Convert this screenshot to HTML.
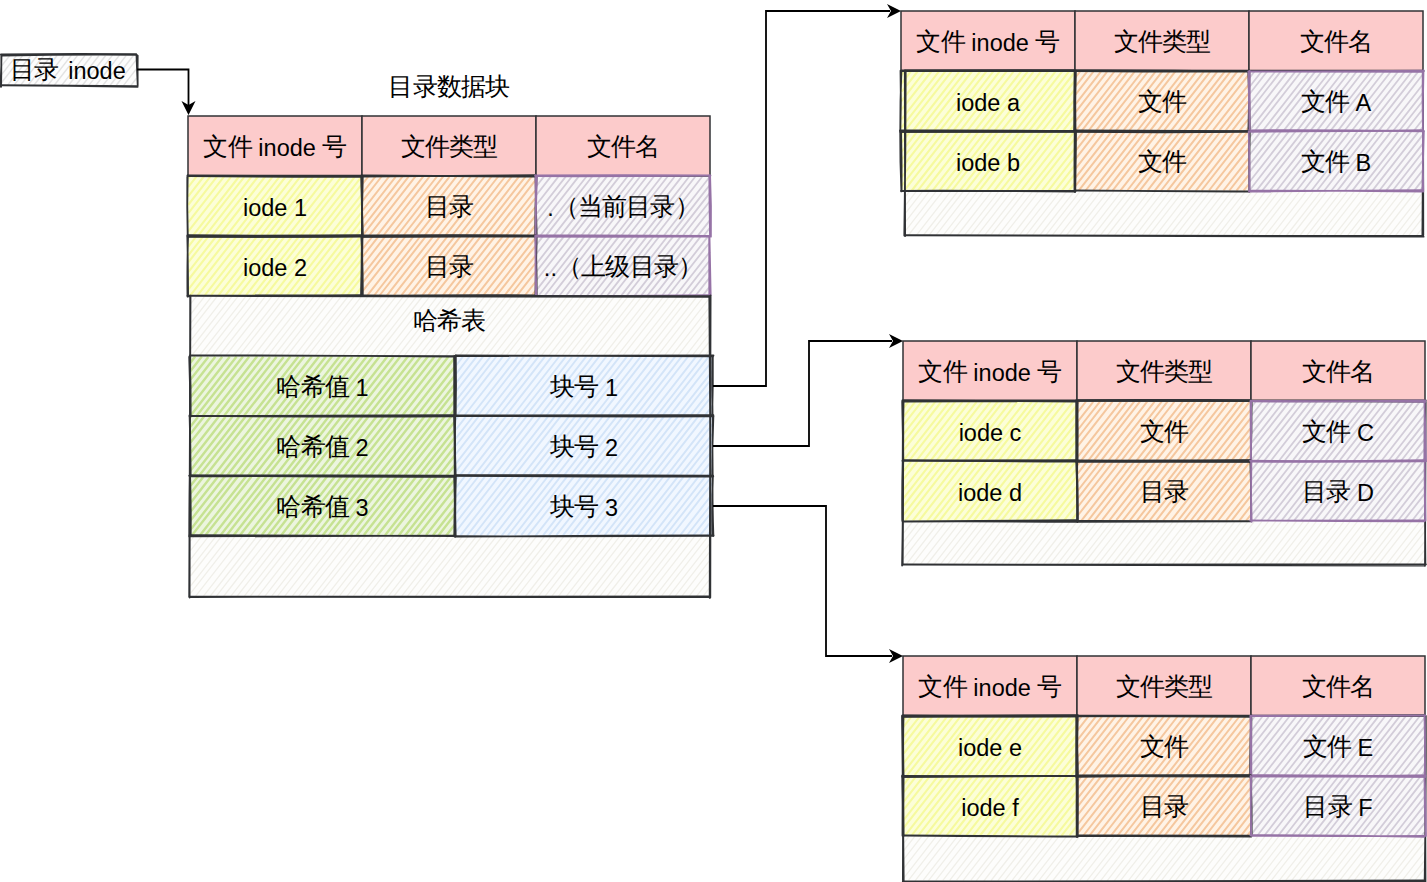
<!DOCTYPE html>
<html><head><meta charset="utf-8"><style>
html,body{margin:0;padding:0;background:#fff;width:1427px;height:882px;overflow:hidden}
svg{display:block}
text{font-family:"Liberation Sans", sans-serif;fill:#000}
</style></head><body>
<svg width="1427" height="882" viewBox="0 0 1427 882">
<defs><pattern id="hyel" patternUnits="userSpaceOnUse" width="5.4" height="5.4" patternTransform="rotate(38)"><rect width="5.4" height="5.4" fill="#fcfed8"/><rect x="0" y="0" width="2.1" height="5.4" fill="#f6fa9e"/></pattern><pattern id="horg" patternUnits="userSpaceOnUse" width="5.4" height="5.4" patternTransform="rotate(38)"><rect width="5.4" height="5.4" fill="#fff3e6"/><rect x="0" y="0" width="2.0" height="5.4" fill="#f5c79e"/></pattern><pattern id="hpur" patternUnits="userSpaceOnUse" width="5.4" height="5.4" patternTransform="rotate(38)"><rect width="5.4" height="5.4" fill="#f8f7f9"/><rect x="0" y="0" width="1.8" height="5.4" fill="#d3cdd9"/></pattern><pattern id="hgrn" patternUnits="userSpaceOnUse" width="5.4" height="5.4" patternTransform="rotate(38)"><rect width="5.4" height="5.4" fill="#ecf5df"/><rect x="0" y="0" width="2.4" height="5.4" fill="#c6e292"/></pattern><pattern id="hblu" patternUnits="userSpaceOnUse" width="5.4" height="5.4" patternTransform="rotate(38)"><rect width="5.4" height="5.4" fill="#f1f7ff"/><rect x="0" y="0" width="1.9" height="5.4" fill="#d3e4f8"/></pattern><pattern id="hgry" patternUnits="userSpaceOnUse" width="5.4" height="5.4" patternTransform="rotate(38)"><rect width="5.4" height="5.4" fill="#fdfdfc"/><rect x="0" y="0" width="1.3" height="5.4" fill="#f0efe9"/></pattern><pattern id="hwht" patternUnits="userSpaceOnUse" width="5.4" height="5.4" patternTransform="rotate(38)"><rect width="5.4" height="5.4" fill="#fdfdfd"/><rect x="0" y="0" width="1.5" height="5.4" fill="#e3e3e3"/></pattern></defs>
<rect x="1" y="55" width="136" height="31" fill="#fdfdfd"/>
<path d="M1.5 56.5L2.6 55.1M1.3 66.3L10.1 55.1M1.0 75.4L16.6 55.4M1.1 83.2L22.8 55.4M7.0 85.9L31.0 55.2M14.2 85.1L37.3 55.5M20.7 85.1L44.1 55.0M27.7 85.7L51.6 55.1M33.5 85.7L56.9 55.8M40.6 85.5L63.9 55.6M47.7 85.5L71.5 55.1M53.9 85.8L77.4 55.6M61.4 85.7L84.9 55.6M68.2 85.7L91.6 55.8M75.4 85.8L99.0 55.5M82.5 85.2L105.5 55.7M89.0 85.1L112.5 55.1M95.9 85.3L119.5 55.1M102.4 86.0L126.1 55.6M110.0 85.5L133.2 55.8M116.3 85.3L136.6 59.4M123.4 85.6L136.4 68.9M130.8 85.6L136.5 78.2M136.5 85.3L136.5 85.3" stroke="#e3e3e3" stroke-width="1.5" fill="none"/>
<path d="M1.9 55.6Q69.6 54.3 136.6 54.8M0.9 54.4Q69.1 53.6 136.3 54.2" fill="none" stroke="#303235" stroke-width="1.8" stroke-linecap="round"/>
<path d="M136.5 54.8Q137.0 70.1 137.7 85.2M137.7 55.6Q137.5 70.3 137.7 85.6" fill="none" stroke="#303235" stroke-width="1.8" stroke-linecap="round"/>
<path d="M137.7 86.8Q68.5 85.6 0.4 85.4M137.0 86.2Q68.6 85.4 0.6 85.1" fill="none" stroke="#303235" stroke-width="1.8" stroke-linecap="round"/>
<path d="M1.1 86.8Q1.4 71.2 1.3 55.0M0.2 86.7Q1.4 71.0 1.5 55.7" fill="none" stroke="#303235" stroke-width="1.8" stroke-linecap="round"/>
<text x="68" y="71" font-size="23.5" text-anchor="middle" dominant-baseline="central"><tspan font-size="25" letter-spacing="-0.8" baseline-shift="1.8">目录</tspan><tspan dx="3"> inode</tspan></text>
<path d="M137 69.5 H188.5 V105" fill="none" stroke="#000" stroke-width="1.8"/>
<path d="M188.5 115 L181.5 101 L188.5 105 L195.5 101 Z" fill="#000"/>
<text x="449" y="87.5" font-size="23.5" text-anchor="middle" dominant-baseline="central"><tspan font-size="25" letter-spacing="-0.8" baseline-shift="1.8">目录数据块</tspan></text>
<rect x="188" y="176" width="174" height="60" fill="#fcfed8"/>
<path d="M188.5 178.1L190.1 176.1M188.2 187.2L196.8 176.2M188.0 196.7L204.2 176.0M188.1 205.0L210.5 176.3M188.6 212.8L217.0 176.6M188.2 222.4L224.2 176.3M188.1 231.7L231.0 176.8M192.9 235.6L239.1 176.5M198.1 235.9L244.7 176.3M205.8 235.2L251.9 176.2M212.4 235.1L258.1 176.5M219.1 235.5L265.6 176.0M226.9 235.1L272.4 176.8M233.4 235.8L279.8 176.3M239.9 235.3L285.8 176.5M247.3 235.7L293.8 176.2M254.7 235.1L300.2 176.8M261.4 235.2L307.1 176.7M267.2 235.5L313.4 176.3M273.4 236.0L320.0 176.3M281.1 235.3L326.7 176.9M288.4 235.1L333.8 176.9M295.6 235.7L342.0 176.2M301.2 235.8L347.8 176.2M309.2 235.1L354.8 176.8M315.6 235.4L361.4 176.8M321.9 235.4L361.3 184.9M329.9 235.3L361.6 194.6M335.8 235.3L361.8 202.1M343.8 235.1L361.7 212.1M350.0 235.1L361.5 220.4M355.9 235.9L361.9 228.2" stroke="#f6fa9e" stroke-width="2.1" fill="none"/>
<rect x="362" y="176" width="174" height="60" fill="#fff3e6"/>
<path d="M362.1 184.4L368.1 176.8M362.5 193.0L375.5 176.3M362.1 201.4L382.0 176.0M362.5 210.6L389.1 176.5M362.3 219.5L395.6 176.8M362.2 228.2L402.8 176.2M362.3 235.8L408.6 176.6M369.2 235.6L415.7 176.1M377.0 235.7L423.3 176.4M383.8 235.1L429.7 176.4M390.9 235.5L437.0 176.5M396.8 236.0L443.3 176.4M403.1 236.0L449.4 176.8M410.3 235.6L456.3 176.7M417.6 235.7L463.8 176.5M424.8 235.3L471.0 176.1M431.2 235.8L477.7 176.3M438.6 235.5L484.7 176.5M445.7 235.1L491.6 176.4M452.1 235.5L498.2 176.5M459.0 235.6L505.2 176.5M465.9 235.1L511.6 176.7M473.4 235.1L519.3 176.2M479.7 235.1L525.3 176.8M485.3 235.9L531.8 176.4M492.2 235.8L535.9 179.7M500.3 235.3L535.3 190.5M506.3 235.3L535.5 198.0M513.3 235.2L535.3 207.0M520.3 235.1L535.7 215.4M527.6 235.1L535.4 225.1M533.6 235.6L535.6 233.0" stroke="#f5c79e" stroke-width="2.0" fill="none"/>
<rect x="536" y="176" width="174" height="60" fill="#f8f7f9"/>
<path d="M536.2 178.1L537.3 176.7M536.4 186.3L544.1 176.4M536.2 195.3L550.8 176.6M536.0 205.3L558.2 176.9M536.7 213.7L566.1 176.1M536.0 222.3L571.7 176.7M536.1 231.0L578.8 176.4M540.6 235.2L586.7 176.2M546.4 235.1L592.2 176.5M553.5 235.9L600.3 176.1M560.6 235.6L607.1 176.1M568.0 235.4L613.8 176.8M573.7 235.2L619.9 176.1M581.4 235.6L627.7 176.3M588.1 235.1L634.1 176.3M594.1 235.5L640.4 176.2M600.6 235.8L647.3 176.0M607.7 235.7L654.1 176.3M615.4 235.7L661.7 176.5M621.4 235.7L668.0 176.0M628.1 236.0L674.5 176.7M635.6 235.8L682.0 176.4M642.9 235.9L689.1 176.8M649.3 235.5L695.2 176.8M656.1 235.5L702.1 176.7M663.8 235.7L709.4 177.3M670.4 235.4L709.7 185.1M676.3 235.9L709.9 192.9M683.2 235.3L709.8 201.3M689.7 235.9L709.4 210.8M698.1 235.4L709.8 220.4M703.7 235.7L709.7 228.1" stroke="#d3cdd9" stroke-width="1.8" fill="none"/>
<rect x="188" y="236" width="174" height="60" fill="#fcfed8"/>
<path d="M188.2 237.0L188.3 236.9M188.4 246.6L196.5 236.2M188.2 255.5L203.2 236.3M188.3 262.4L208.5 236.4M188.1 272.3L216.1 236.5M188.2 280.0L222.5 236.1M188.0 289.8L230.0 236.0M190.0 295.8L236.3 236.6M197.6 295.3L243.5 236.6M204.9 295.2L250.8 236.4M211.2 295.1L257.2 236.1M218.4 295.4L264.8 236.0M225.6 295.2L271.4 236.6M232.2 295.2L278.4 236.1M238.5 295.5L284.4 236.8M246.1 295.2L291.9 236.6M252.9 295.4L298.8 236.7M258.3 296.0L305.1 236.1M265.4 295.9L311.6 236.8M273.0 295.4L318.9 236.6M279.9 295.5L326.4 236.0M287.1 295.3L333.1 236.5M293.5 295.4L339.8 236.1M300.4 295.8L347.0 236.1M306.8 295.3L353.0 236.2M314.6 295.1L360.4 236.5M320.5 295.5L361.5 243.1M328.1 295.4L361.5 252.6M333.5 295.9L361.8 259.7M341.5 295.7L361.6 270.0M347.1 295.9L361.8 277.1M355.4 295.3L361.5 287.5M361.6 295.5L361.7 295.4" stroke="#f6fa9e" stroke-width="2.1" fill="none"/>
<rect x="362" y="236" width="174" height="60" fill="#fff3e6"/>
<path d="M362.7 238.5L364.5 236.2M362.7 248.9L372.8 236.0M362.6 256.8L378.1 236.9M362.2 266.1L385.5 236.2M362.2 275.8L392.9 236.5M362.4 282.8L398.2 236.9M362.6 291.2L405.4 236.5M367.4 295.3L413.6 236.2M374.1 295.5L420.6 236.0M379.6 295.5L425.8 236.4M386.6 295.9L433.2 236.3M394.0 295.2L440.3 236.0M401.6 295.2L447.7 236.1M408.6 295.3L454.3 236.9M414.2 295.6L460.5 236.4M422.3 295.4L468.5 236.3M428.1 295.7L474.7 236.0M434.8 295.2L480.9 236.3M442.5 295.8L489.0 236.3M448.7 295.8L495.1 236.4M456.7 295.2L502.3 236.8M463.1 295.1L508.6 236.9M469.7 295.3L516.0 236.0M476.6 295.6L522.6 236.7M483.2 295.7L529.8 236.0M490.4 295.9L535.7 237.9M496.5 295.7L535.5 245.8M504.3 295.8L535.5 255.7M510.3 295.5L535.7 263.0M516.7 295.8L535.8 271.3M524.9 295.5L535.8 281.5M532.1 295.1L535.7 290.5" stroke="#f5c79e" stroke-width="2.0" fill="none"/>
<rect x="536" y="236" width="174" height="60" fill="#f8f7f9"/>
<path d="M536.3 244.9L543.1 236.1M536.2 254.0L549.8 236.5M536.6 263.6L557.8 236.4M536.4 271.6L564.0 236.4M536.0 280.7L570.8 236.3M536.1 290.6L578.4 236.5M538.9 295.2L585.0 236.2M544.7 295.8L591.1 236.4M552.4 295.1L597.9 236.8M559.2 296.0L606.0 236.0M566.4 295.2L612.3 236.4M572.4 296.0L619.0 236.4M580.4 295.2L626.1 236.8M586.9 295.8L633.5 236.1M592.7 295.5L638.7 236.6M600.9 295.3L646.8 236.6M607.3 295.6L653.4 236.5M613.3 295.3L659.4 236.2M621.4 295.4L667.6 236.3M626.8 295.8L673.0 236.6M634.4 295.9L681.1 236.1M641.3 295.4L687.5 236.4M647.7 295.4L694.1 236.0M654.6 295.6L700.4 236.9M662.3 295.2L708.1 236.4M668.0 295.8L709.3 243.0M675.6 295.7L710.0 251.8M682.5 295.4L709.7 260.5M688.9 295.4L709.3 269.3M695.3 296.0L709.8 277.4M702.9 295.4L709.9 286.4" stroke="#d3cdd9" stroke-width="1.8" fill="none"/>
<rect x="188" y="116" width="174" height="60" fill="#fccbcb" stroke="#303235" stroke-width="1.5"/>
<rect x="362" y="116" width="174" height="60" fill="#fccbcb" stroke="#303235" stroke-width="1.5"/>
<rect x="536" y="116" width="174" height="60" fill="#fccbcb" stroke="#303235" stroke-width="1.5"/>
<path d="M188.4 176.0Q274.6 177.0 361.5 176.8M187.5 175.5Q275.8 175.6 362.5 175.6" fill="none" stroke="#303235" stroke-width="1.8" stroke-linecap="round"/>
<path d="M361.4 175.5Q362.5 205.3 361.9 236.3M361.8 175.5Q361.5 204.6 362.9 235.4" fill="none" stroke="#303235" stroke-width="1.8" stroke-linecap="round"/>
<path d="M361.8 236.7Q276.1 237.3 188.7 236.4M361.7 235.4Q274.4 236.2 188.8 236.4" fill="none" stroke="#303235" stroke-width="1.8" stroke-linecap="round"/>
<path d="M187.8 235.8Q186.8 205.2 187.7 175.4M187.7 236.8Q187.0 206.6 187.3 176.8" fill="none" stroke="#303235" stroke-width="1.8" stroke-linecap="round"/>
<path d="M362.6 176.6Q449.2 175.7 535.9 175.2M362.8 175.4Q448.4 175.9 535.8 176.7" fill="none" stroke="#303235" stroke-width="1.8" stroke-linecap="round"/>
<path d="M536.6 176.5Q535.1 206.6 535.2 235.2M535.6 176.4Q535.7 206.9 536.7 235.7" fill="none" stroke="#303235" stroke-width="1.8" stroke-linecap="round"/>
<path d="M536.2 235.6Q448.9 234.7 362.4 235.7M536.5 236.7Q448.5 236.3 362.2 236.8" fill="none" stroke="#303235" stroke-width="1.8" stroke-linecap="round"/>
<path d="M362.0 236.8Q361.9 206.2 362.8 175.8M362.0 236.8Q362.1 207.2 361.4 176.5" fill="none" stroke="#303235" stroke-width="1.8" stroke-linecap="round"/>
<path d="M536.5 176.2Q622.8 176.4 709.7 175.7M535.2 175.5Q622.1 174.7 710.5 175.5" fill="none" stroke="#9673a6" stroke-width="1.8" stroke-linecap="round"/>
<path d="M710.1 175.7Q711.4 205.8 710.9 236.7M709.3 175.3Q709.5 205.3 710.0 236.4" fill="none" stroke="#9673a6" stroke-width="1.8" stroke-linecap="round"/>
<path d="M709.9 236.2Q623.7 236.6 536.3 236.4M709.3 236.6Q622.2 236.8 535.6 236.1" fill="none" stroke="#9673a6" stroke-width="1.8" stroke-linecap="round"/>
<path d="M535.5 235.5Q536.2 205.6 535.5 175.4M535.7 235.8Q535.8 206.5 536.9 176.0" fill="none" stroke="#9673a6" stroke-width="1.8" stroke-linecap="round"/>
<path d="M188.3 236.9Q275.4 237.0 361.3 236.0M188.7 235.2Q274.6 236.1 361.6 235.3" fill="none" stroke="#303235" stroke-width="1.8" stroke-linecap="round"/>
<path d="M362.1 236.8Q361.9 266.3 361.8 296.7M362.5 236.8Q362.1 266.0 361.3 296.2" fill="none" stroke="#303235" stroke-width="1.8" stroke-linecap="round"/>
<path d="M361.8 295.4Q274.8 295.7 187.5 295.6M361.5 295.1Q274.0 295.4 187.7 296.3" fill="none" stroke="#303235" stroke-width="1.8" stroke-linecap="round"/>
<path d="M187.5 296.5Q187.1 265.7 188.1 235.2M188.1 296.3Q188.0 265.7 187.3 235.4" fill="none" stroke="#303235" stroke-width="1.8" stroke-linecap="round"/>
<path d="M361.6 235.7Q449.3 235.4 536.8 235.7M361.8 236.7Q448.8 236.6 536.9 235.8" fill="none" stroke="#303235" stroke-width="1.8" stroke-linecap="round"/>
<path d="M535.5 235.1Q536.7 265.3 536.7 295.9M536.7 235.9Q536.1 265.8 535.4 295.1" fill="none" stroke="#303235" stroke-width="1.8" stroke-linecap="round"/>
<path d="M536.7 295.3Q449.5 294.9 362.2 295.8M535.6 296.0Q449.2 296.2 362.8 295.3" fill="none" stroke="#303235" stroke-width="1.8" stroke-linecap="round"/>
<path d="M362.8 295.5Q362.9 266.1 361.3 236.8M361.2 296.8Q361.7 267.3 361.8 236.7" fill="none" stroke="#303235" stroke-width="1.8" stroke-linecap="round"/>
<path d="M535.4 236.5Q623.1 236.8 709.5 235.8M535.4 235.5Q622.4 235.1 709.8 236.0" fill="none" stroke="#9673a6" stroke-width="1.8" stroke-linecap="round"/>
<path d="M709.5 236.4Q710.2 266.3 710.7 295.2M709.2 236.6Q709.3 266.6 709.3 296.2" fill="none" stroke="#9673a6" stroke-width="1.8" stroke-linecap="round"/>
<path d="M709.7 295.9Q623.2 295.8 536.1 295.9M709.9 295.1Q622.6 296.0 536.2 296.0" fill="none" stroke="#9673a6" stroke-width="1.8" stroke-linecap="round"/>
<path d="M536.5 295.9Q535.3 265.3 535.4 236.0M535.9 295.3Q535.1 265.9 535.9 236.0" fill="none" stroke="#9673a6" stroke-width="1.8" stroke-linecap="round"/>
<text x="275.0" y="148" font-size="23.5" text-anchor="middle" dominant-baseline="central"><tspan font-size="25" letter-spacing="-0.8" baseline-shift="1.8">文件</tspan> inode <tspan font-size="25" letter-spacing="-0.8" baseline-shift="1.8">号</tspan></text>
<text x="449.0" y="148" font-size="23.5" text-anchor="middle" dominant-baseline="central"><tspan font-size="25" letter-spacing="-0.8" baseline-shift="1.8">文件类型</tspan></text>
<text x="623.0" y="148" font-size="23.5" text-anchor="middle" dominant-baseline="central"><tspan font-size="25" letter-spacing="-0.8" baseline-shift="1.8">文件名</tspan></text>
<text x="275.0" y="208" font-size="23.5" text-anchor="middle" dominant-baseline="central">iode 1</text>
<text x="449.0" y="208" font-size="23.5" text-anchor="middle" dominant-baseline="central"><tspan font-size="25" letter-spacing="-0.8" baseline-shift="1.8">目录</tspan></text>
<text x="623.0" y="208" font-size="23.5" text-anchor="middle" dominant-baseline="central">.<tspan font-size="25" letter-spacing="-0.8" baseline-shift="1.8">（当前目录）</tspan></text>
<text x="275.0" y="268" font-size="23.5" text-anchor="middle" dominant-baseline="central">iode 2</text>
<text x="449.0" y="268" font-size="23.5" text-anchor="middle" dominant-baseline="central"><tspan font-size="25" letter-spacing="-0.8" baseline-shift="1.8">目录</tspan></text>
<text x="623.0" y="268" font-size="23.5" text-anchor="middle" dominant-baseline="central">..<tspan font-size="25" letter-spacing="-0.8" baseline-shift="1.8">（上级目录）</tspan></text>
<rect x="190" y="296" width="520" height="301" fill="#fdfdfc"/>
<path d="M190.4 304.1L196.5 296.4M190.1 315.0L204.3 296.8M190.5 323.3L211.3 296.8M190.7 330.3L217.1 296.5M190.7 340.6L225.4 296.2M190.7 349.0L232.1 296.1M190.6 357.1L238.2 296.2M190.2 367.4L245.4 296.8M190.4 374.5L251.0 296.9M190.2 383.6L258.3 296.5M190.0 392.8L265.5 296.2M190.7 400.4L271.8 296.6M190.1 411.4L279.7 296.7M190.4 418.3L285.4 296.6M190.6 427.2L292.7 296.5M190.7 436.4L300.3 296.1M190.5 446.2L307.5 296.4M190.2 454.9L313.6 296.9M190.3 463.2L320.3 296.7M190.1 471.9L327.0 296.7M190.6 479.3L333.6 296.2M190.7 489.0L341.1 296.6M190.2 498.5L348.4 296.0M190.1 506.2L353.9 296.6M190.4 515.4L361.1 296.8M190.2 523.8L367.7 296.6M190.0 532.6L374.6 296.3M190.3 541.2L381.7 296.2M190.4 550.7L389.3 296.2M190.4 559.6L396.2 296.1M190.2 569.2L403.6 296.1M190.5 576.0L408.6 296.8M190.3 586.3L416.9 296.2M190.5 593.4L422.4 296.5M195.5 596.4L429.9 296.4M203.3 596.3L437.7 296.2M209.6 597.0L444.3 296.5M215.8 596.8L450.8 296.1M223.1 597.0L457.8 296.5M230.3 596.9L465.2 296.2M236.9 596.5L471.2 296.6M243.8 596.8L478.6 296.3M249.8 597.0L484.3 296.8M257.9 596.3L492.5 296.0M264.8 596.3L499.1 296.4M271.3 596.6L506.0 296.2M277.0 596.8L512.0 296.0M284.6 596.3L518.7 296.7M292.2 596.3L526.7 296.3M298.4 596.6L532.7 296.7M305.1 596.7L539.6 296.6M312.6 596.8L547.0 296.8M318.0 596.8L552.8 296.2M326.5 596.1L560.4 296.7M332.7 596.2L567.0 296.3M339.4 596.1L573.5 296.6M346.8 596.4L580.7 296.9M353.4 596.2L587.5 296.7M360.6 596.6L594.9 296.7M366.9 596.7L601.7 296.2M373.7 596.9L608.1 296.9M379.7 597.0L614.8 296.1M388.0 596.7L622.8 296.1M393.3 597.0L627.9 296.7M401.5 596.3L635.6 296.7M407.4 596.4L641.9 296.3M415.6 596.2L649.5 296.8M421.4 596.2L655.2 296.9M429.0 596.9L663.9 296.2M434.5 597.0L669.0 296.8M442.9 596.4L677.0 296.8M449.2 596.7L684.1 296.1M455.6 596.3L690.0 296.2M462.5 596.6L697.4 296.0M469.2 596.7L703.6 296.7M476.2 596.7L709.3 298.4M483.7 596.2L709.5 307.1M489.5 596.6L709.7 314.8M497.4 596.7L709.5 325.3M503.8 596.8L709.4 333.7M510.4 596.2L709.9 341.0M516.7 596.8L709.4 350.1M524.9 597.0L709.6 360.5M531.6 596.2L709.9 368.1M538.1 596.7L709.4 377.5M545.1 596.1L709.8 385.3M551.7 596.3L709.6 394.1M558.3 596.4L709.9 402.3M566.2 596.3L709.4 413.1M572.6 596.7L709.7 421.2M579.5 596.2L709.9 429.2M586.5 597.0L709.8 439.0M593.0 596.1L709.6 446.9M600.0 596.2L709.8 455.6M606.7 596.5L709.4 465.0M614.1 596.4L709.7 474.0M620.0 596.9L709.4 482.4M627.8 596.3L709.9 491.2M634.3 596.3L709.6 499.9M640.4 596.6L709.3 508.4M647.3 596.8L709.8 516.8M655.3 596.2L709.9 526.3M660.9 596.8L709.8 534.2M668.2 596.8L709.8 543.7M675.2 596.1L709.5 552.2M681.9 596.1L709.9 560.2M689.2 596.1L709.4 570.2M696.2 596.6L709.9 579.1M702.6 596.9L709.8 587.7M709.0 597.0L709.7 596.1" stroke="#f0efe9" stroke-width="1.3" fill="none"/>
<rect x="190" y="356" width="265" height="60" fill="#ecf5df"/>
<path d="M190.4 362.8L195.2 356.6M190.1 371.5L201.8 356.6M190.5 379.6L208.3 356.9M190.4 388.6L215.3 356.7M190.2 397.7L222.2 356.7M190.6 406.8L229.7 356.7M190.7 415.4L236.6 356.6M196.7 415.7L242.9 356.6M203.1 415.6L249.1 356.7M211.0 415.4L257.2 356.2M217.3 415.6L263.4 356.6M224.3 415.4L270.0 356.9M230.8 415.4L276.6 356.7M237.8 415.5L283.6 356.9M244.2 415.5L290.5 356.2M252.5 415.1L298.3 356.5M258.0 415.5L304.1 356.5M265.7 415.5L311.8 356.6M272.8 415.5L319.0 356.4M279.6 415.8L325.8 356.6M286.0 415.3L332.2 356.1M293.5 415.7L340.0 356.1M299.3 415.6L345.8 356.0M306.3 415.6L352.4 356.7M313.0 415.7L359.5 356.2M320.9 415.1L366.7 356.5M326.9 415.2L372.9 356.4M333.2 415.9L379.4 356.7M341.4 415.4L387.4 356.4M347.5 415.8L393.5 356.9M354.4 415.4L400.2 356.8M361.8 415.6L408.1 356.3M368.0 415.9L414.2 356.8M375.1 415.2L421.1 356.3M381.5 415.8L427.9 356.4M387.9 416.0L434.3 356.7M395.1 415.8L441.6 356.3M402.4 415.6L448.5 356.6M409.5 415.7L454.3 358.2M416.4 415.9L454.4 367.3M423.8 415.3L454.9 375.5M430.5 415.4L455.0 384.0M436.3 415.1L454.5 391.8M442.9 415.9L454.9 400.6M450.2 415.3L454.7 409.5" stroke="#c6e292" stroke-width="2.4" fill="none"/>
<rect x="455" y="356" width="258" height="60" fill="#f1f7ff"/>
<path d="M455.6 357.4L456.5 356.2M455.4 366.3L462.9 356.7M455.7 374.4L469.4 356.7M455.1 384.1L476.6 356.7M455.5 391.8L483.2 356.4M455.4 401.4L490.7 356.3M455.1 409.3L496.4 356.5M456.8 415.6L503.2 356.1M464.3 415.5L510.5 356.5M471.4 416.0L517.7 356.8M478.1 415.5L524.0 356.6M485.3 415.6L531.6 356.4M492.2 415.9L538.5 356.6M498.5 416.0L544.9 356.6M506.1 415.1L552.0 356.3M513.1 415.5L559.2 356.5M519.4 416.0L565.8 356.7M526.1 415.7L572.1 356.8M532.7 415.6L578.8 356.5M539.9 415.8L586.3 356.4M546.5 415.5L592.4 356.8M553.4 415.2L599.3 356.4M560.1 415.7L606.4 356.5M568.0 415.4L613.8 356.7M573.6 415.7L620.0 356.3M581.1 415.4L626.9 356.7M587.2 415.3L632.9 356.8M594.3 416.0L640.9 356.3M600.4 415.8L646.5 356.9M608.5 415.4L654.4 356.7M615.8 415.4L661.8 356.6M622.3 415.3L668.2 356.6M628.9 415.8L675.1 356.6M635.8 415.3L682.0 356.1M641.7 416.0L688.0 356.7M650.1 415.4L696.2 356.3M656.9 415.3L702.8 356.5M662.6 415.7L708.9 356.4M669.6 415.6L712.5 360.7M677.1 415.9L712.6 370.6M682.7 415.9L712.4 377.8M690.9 415.1L712.7 387.3M696.5 415.6L712.6 395.1M705.2 415.1L712.6 405.6M710.6 415.9L712.5 413.5" stroke="#d3e4f8" stroke-width="1.9" fill="none"/>
<rect x="190" y="416" width="265" height="60" fill="#ecf5df"/>
<path d="M190.0 417.2L190.9 416.0M190.1 426.9L197.9 416.9M190.6 433.8L204.4 416.1M190.5 442.6L211.1 416.2M190.1 453.2L219.2 416.0M190.5 461.6L225.5 416.8M190.1 470.9L232.5 416.6M193.2 475.6L239.1 416.9M199.7 475.1L245.4 416.7M205.5 476.0L251.9 416.6M213.6 475.9L260.2 416.3M220.4 475.8L266.5 416.8M226.8 475.9L273.4 416.3M234.1 475.6L280.2 416.6M240.6 475.2L286.6 416.3M248.1 475.4L294.2 416.4M254.6 475.3L300.2 416.9M261.9 475.5L308.2 416.3M268.0 475.1L313.6 416.7M275.5 475.7L321.7 416.6M283.0 475.2L328.8 416.6M288.5 475.6L334.4 416.8M295.7 475.4L341.6 416.6M303.4 475.2L349.5 416.3M308.5 475.8L354.8 416.4M316.6 475.2L362.2 416.8M322.7 475.2L368.3 416.8M330.6 475.5L376.8 416.3M337.6 475.2L383.4 416.6M344.2 475.7L390.8 416.1M350.8 475.2L397.0 416.2M358.1 475.1L404.1 416.2M364.5 475.4L410.6 416.4M370.5 475.8L416.6 416.7M378.4 475.6L424.8 416.1M385.5 475.3L431.6 416.2M392.1 475.2L437.6 416.8M398.5 475.5L444.6 416.6M404.6 475.8L451.3 416.2M412.4 475.7L454.6 421.7M418.9 475.5L454.9 429.5M425.6 475.1L454.7 437.8M432.3 475.4L454.4 447.0M439.2 475.4L454.7 455.5M446.1 476.0L455.0 464.7M454.3 475.2L454.6 474.8" stroke="#c6e292" stroke-width="2.4" fill="none"/>
<rect x="455" y="416" width="258" height="60" fill="#f1f7ff"/>
<path d="M455.6 419.8L458.2 416.4M455.6 429.9L465.8 416.8M455.2 439.2L473.3 416.0M455.1 446.5L478.9 416.1M455.4 454.7L485.0 416.8M455.7 463.9L492.4 416.9M455.4 472.2L499.0 416.4M460.1 475.1L506.1 416.2M467.4 475.4L513.1 416.9M474.2 475.6L520.5 416.4M480.7 475.1L526.2 416.9M487.0 476.0L533.7 416.2M494.7 475.1L540.2 416.9M501.6 476.0L547.9 416.7M508.7 475.4L554.4 416.9M514.2 475.9L560.4 416.7M522.8 475.4L569.0 416.3M529.2 475.3L575.4 416.1M535.3 475.8L581.9 416.1M542.3 475.8L588.9 416.2M549.0 475.4L595.4 416.0M556.4 475.8L603.1 416.0M563.6 475.8L609.6 416.9M570.8 475.2L617.0 416.1M576.5 475.9L622.6 416.9M584.3 475.4L630.4 416.4M590.5 475.2L636.5 416.5M597.3 475.9L643.9 416.2M603.7 475.3L649.7 416.5M610.8 475.2L656.9 416.3M617.6 475.9L664.1 416.3M625.2 475.7L671.7 416.2M631.5 475.7L677.5 416.9M638.3 475.1L684.4 416.1M646.1 475.4L692.3 416.2M652.0 475.7L698.5 416.2M658.5 475.7L704.4 416.9M667.0 475.1L712.9 416.3M672.8 475.2L713.0 423.7M679.8 475.7L712.3 434.2M686.0 475.2L712.7 441.0M692.4 476.0L712.4 450.4M700.0 475.8L712.7 459.6M707.5 475.8L712.6 469.2" stroke="#d3e4f8" stroke-width="1.9" fill="none"/>
<rect x="190" y="476" width="265" height="60" fill="#ecf5df"/>
<path d="M190.5 485.8L198.1 476.2M190.1 493.9L203.6 476.6M190.2 503.3L211.3 476.2M190.5 511.8L217.9 476.8M190.1 521.0L225.3 476.1M190.3 529.9L231.9 476.7M192.0 535.2L238.0 476.3M200.0 535.2L245.9 476.5M205.7 535.1L251.5 476.5M213.4 535.7L259.9 476.2M220.2 535.7L266.7 476.2M226.5 535.4L273.0 476.0M233.5 535.6L279.7 476.5M240.0 535.3L285.7 476.8M247.7 535.7L293.8 476.7M254.1 535.3L300.4 476.1M261.8 535.1L307.6 476.5M267.8 535.5L313.9 476.5M274.3 535.1L320.3 476.2M280.7 535.9L327.3 476.2M288.5 536.0L335.3 476.1M295.3 535.8L342.0 476.0M302.3 535.5L348.3 476.5M308.9 535.9L355.1 476.8M315.8 536.0L362.5 476.1M322.6 535.5L368.9 476.3M328.8 535.6L375.3 476.1M336.7 535.2L382.9 476.1M343.5 535.3L389.7 476.2M350.8 535.1L396.7 476.4M357.0 535.2L402.9 476.5M363.9 535.1L409.5 476.7M370.1 535.8L416.6 476.3M377.7 535.1L423.2 476.8M385.1 535.2L430.8 476.8M390.5 535.5L436.3 476.9M398.5 535.8L444.8 476.4M404.9 535.7L451.2 476.5M411.0 535.6L454.6 479.7M417.6 535.9L454.3 488.9M426.1 535.1L454.5 498.8M433.0 535.2L454.3 507.9M438.5 535.4L454.8 514.5M446.1 535.7L454.6 524.8M453.5 535.4L454.8 533.8" stroke="#c6e292" stroke-width="2.4" fill="none"/>
<rect x="455" y="476" width="258" height="60" fill="#f1f7ff"/>
<path d="M455.7 479.5L458.3 476.3M455.5 488.3L465.0 476.1M455.7 497.4L472.0 476.5M455.3 506.0L478.4 476.5M455.1 514.8L485.3 476.1M455.3 523.6L492.3 476.3M455.1 532.6L498.9 476.5M460.6 535.4L506.6 476.5M466.9 535.8L513.1 476.7M473.7 535.5L519.7 476.6M480.4 535.7L526.9 476.2M487.0 535.5L533.2 476.4M494.1 536.0L540.7 476.3M501.5 535.8L547.8 476.5M507.8 535.7L553.8 476.9M514.7 535.3L560.9 476.1M521.3 535.2L567.2 476.4M527.8 535.6L574.1 476.4M535.5 535.9L582.1 476.2M543.1 535.3L589.4 476.1M548.8 535.7L594.9 476.6M556.4 535.2L602.0 476.8M563.0 535.3L608.8 476.7M570.0 535.6L616.0 476.7M577.1 535.1L623.3 476.1M583.6 536.0L629.9 476.7M590.4 535.5L636.2 476.9M597.1 535.6L643.1 476.7M604.6 535.4L650.7 476.4M610.7 535.6L656.7 476.7M617.2 535.6L663.4 476.5M624.2 535.7L670.2 476.7M631.9 535.5L678.1 476.4M637.6 535.7L684.1 476.1M645.2 535.5L691.6 476.1M652.4 535.7L698.4 476.8M659.6 535.1L705.6 476.2M665.8 535.1L712.0 476.0M671.8 535.5L712.6 483.2M680.2 535.3L712.6 493.7M686.9 535.5L712.6 502.6M693.2 535.6L712.7 510.7M699.9 535.7L712.3 519.8M707.0 535.5L712.9 527.9" stroke="#d3e4f8" stroke-width="1.9" fill="none"/>
<path d="M189.8 295.8Q450.6 296.8 710.1 296.1M190.0 295.9Q449.8 296.4 710.2 296.9" fill="none" stroke="#303235" stroke-width="1.8" stroke-linecap="round"/>
<path d="M710.6 295.4Q710.7 446.7 709.7 597.9M709.3 296.7Q710.7 447.8 710.3 597.6" fill="none" stroke="#303235" stroke-width="1.8" stroke-linecap="round"/>
<path d="M709.9 596.4Q449.7 596.1 189.6 597.0M709.4 597.2Q450.7 597.2 190.2 596.7" fill="none" stroke="#303235" stroke-width="1.8" stroke-linecap="round"/>
<path d="M189.2 596.8Q190.2 445.4 190.5 295.7M189.6 597.6Q189.4 447.0 190.2 296.3" fill="none" stroke="#303235" stroke-width="1.8" stroke-linecap="round"/>
<path d="M190.1 355.6Q323.6 356.0 455.3 356.1M189.8 355.3Q321.4 355.2 454.4 356.5" fill="none" stroke="#303235" stroke-width="1.8" stroke-linecap="round"/>
<path d="M454.4 356.0Q455.5 385.3 455.6 416.2M454.1 356.5Q454.1 385.8 454.7 416.4" fill="none" stroke="#303235" stroke-width="1.8" stroke-linecap="round"/>
<path d="M454.6 415.3Q322.4 415.6 190.7 416.1M454.8 415.2Q323.6 415.6 190.7 416.1" fill="none" stroke="#303235" stroke-width="1.8" stroke-linecap="round"/>
<path d="M190.2 415.5Q190.3 385.8 189.2 356.8M190.7 416.6Q191.0 386.4 189.6 356.2" fill="none" stroke="#303235" stroke-width="1.8" stroke-linecap="round"/>
<path d="M455.8 355.5Q583.8 355.6 712.8 356.4M455.7 356.0Q584.0 355.5 713.5 355.5" fill="none" stroke="#303235" stroke-width="1.8" stroke-linecap="round"/>
<path d="M712.4 356.8Q711.8 386.5 712.6 416.1M712.8 355.8Q713.1 385.3 712.2 415.3" fill="none" stroke="#303235" stroke-width="1.8" stroke-linecap="round"/>
<path d="M712.5 415.4Q582.7 415.8 454.6 415.5M712.7 415.4Q583.6 415.9 455.4 415.3" fill="none" stroke="#303235" stroke-width="1.8" stroke-linecap="round"/>
<path d="M454.3 415.9Q454.4 386.0 455.6 356.5M455.4 415.8Q456.4 385.6 455.8 355.5" fill="none" stroke="#303235" stroke-width="1.8" stroke-linecap="round"/>
<path d="M189.5 415.9Q321.5 416.9 454.3 416.4M190.2 415.8Q321.8 416.6 454.5 416.2" fill="none" stroke="#303235" stroke-width="1.8" stroke-linecap="round"/>
<path d="M454.3 416.0Q455.2 445.6 455.1 475.6M455.3 416.1Q454.2 445.4 454.7 475.8" fill="none" stroke="#303235" stroke-width="1.8" stroke-linecap="round"/>
<path d="M455.6 475.7Q323.1 475.2 190.3 475.3M455.0 475.6Q321.6 475.0 189.2 475.7" fill="none" stroke="#303235" stroke-width="1.8" stroke-linecap="round"/>
<path d="M190.4 475.6Q190.6 446.9 189.8 416.7M190.7 475.3Q190.4 445.5 189.6 415.2" fill="none" stroke="#303235" stroke-width="1.8" stroke-linecap="round"/>
<path d="M454.7 415.8Q583.6 416.7 713.3 416.4M454.7 416.2Q584.3 416.2 712.4 415.3" fill="none" stroke="#303235" stroke-width="1.8" stroke-linecap="round"/>
<path d="M713.4 415.2Q712.2 444.9 712.2 475.4M712.8 415.2Q712.1 446.3 712.7 476.2" fill="none" stroke="#303235" stroke-width="1.8" stroke-linecap="round"/>
<path d="M713.1 476.4Q584.2 475.9 454.6 475.9M712.1 476.6Q583.0 476.7 455.5 475.6" fill="none" stroke="#303235" stroke-width="1.8" stroke-linecap="round"/>
<path d="M455.2 475.2Q455.4 444.7 454.5 415.3M455.7 476.4Q454.8 446.8 454.3 416.4" fill="none" stroke="#303235" stroke-width="1.8" stroke-linecap="round"/>
<path d="M190.6 475.6Q322.3 477.0 454.3 476.8M190.3 476.4Q322.9 475.5 455.6 476.2" fill="none" stroke="#303235" stroke-width="1.8" stroke-linecap="round"/>
<path d="M455.4 475.9Q454.5 506.8 455.0 536.8M454.2 476.4Q454.9 506.8 455.6 535.6" fill="none" stroke="#303235" stroke-width="1.8" stroke-linecap="round"/>
<path d="M455.2 536.1Q322.1 535.5 189.5 535.2M454.5 535.7Q322.2 535.5 189.3 536.4" fill="none" stroke="#303235" stroke-width="1.8" stroke-linecap="round"/>
<path d="M189.5 536.0Q189.5 506.0 189.9 476.8M190.7 535.4Q191.0 505.6 190.1 475.7" fill="none" stroke="#303235" stroke-width="1.8" stroke-linecap="round"/>
<path d="M455.5 475.4Q584.3 476.3 713.3 476.2M455.6 475.3Q583.6 474.7 712.6 475.7" fill="none" stroke="#303235" stroke-width="1.8" stroke-linecap="round"/>
<path d="M712.6 475.5Q712.3 505.4 713.4 535.9M712.9 475.8Q711.8 506.4 712.4 535.2" fill="none" stroke="#303235" stroke-width="1.8" stroke-linecap="round"/>
<path d="M713.5 535.3Q584.5 535.4 455.4 536.9M713.0 535.9Q582.8 536.7 454.4 536.1" fill="none" stroke="#303235" stroke-width="1.8" stroke-linecap="round"/>
<path d="M455.3 536.2Q455.1 505.8 455.8 476.3M454.3 535.1Q454.6 505.3 455.5 476.6" fill="none" stroke="#303235" stroke-width="1.8" stroke-linecap="round"/>
<text x="449" y="322" font-size="23.5" text-anchor="middle" dominant-baseline="central"><tspan font-size="25" letter-spacing="-0.8" baseline-shift="1.8">哈希表</tspan></text>
<text x="322.5" y="388" font-size="23.5" text-anchor="middle" dominant-baseline="central"><tspan font-size="25" letter-spacing="-0.8" baseline-shift="1.8">哈希值</tspan> 1</text>
<text x="584" y="388" font-size="23.5" text-anchor="middle" dominant-baseline="central"><tspan font-size="25" letter-spacing="-0.8" baseline-shift="1.8">块号</tspan> 1</text>
<text x="322.5" y="448" font-size="23.5" text-anchor="middle" dominant-baseline="central"><tspan font-size="25" letter-spacing="-0.8" baseline-shift="1.8">哈希值</tspan> 2</text>
<text x="584" y="448" font-size="23.5" text-anchor="middle" dominant-baseline="central"><tspan font-size="25" letter-spacing="-0.8" baseline-shift="1.8">块号</tspan> 2</text>
<text x="322.5" y="508" font-size="23.5" text-anchor="middle" dominant-baseline="central"><tspan font-size="25" letter-spacing="-0.8" baseline-shift="1.8">哈希值</tspan> 3</text>
<text x="584" y="508" font-size="23.5" text-anchor="middle" dominant-baseline="central"><tspan font-size="25" letter-spacing="-0.8" baseline-shift="1.8">块号</tspan> 3</text>
<rect x="905" y="191" width="518" height="45" fill="#fdfdfc"/>
<path d="M905.7 196.4L909.8 191.2M905.6 205.1L916.1 191.7M905.1 213.6L922.2 191.8M905.3 222.2L929.2 191.5M905.6 230.6L936.4 191.2M908.2 235.5L942.5 191.6M916.3 235.3L950.3 191.9M923.2 235.5L957.7 191.5M928.7 235.7L963.2 191.5M935.8 235.3L970.3 191.2M943.4 235.1L977.7 191.1M949.2 235.6L983.9 191.2M956.8 236.0L991.3 191.8M964.4 235.3L998.7 191.4M970.3 235.4L1004.6 191.5M977.1 235.7L1011.7 191.4M984.7 235.2L1018.6 191.9M990.4 235.7L1025.0 191.4M997.9 235.7L1032.7 191.2M1004.0 235.7L1038.6 191.4M1012.7 235.1L1046.5 191.8M1019.6 235.1L1053.5 191.6M1025.5 235.9L1060.1 191.6M1032.2 235.7L1066.7 191.5M1039.7 235.5L1074.0 191.6M1045.5 235.7L1079.7 191.8M1051.8 235.8L1086.3 191.6M1059.2 235.9L1093.8 191.6M1066.3 235.5L1100.7 191.4M1073.4 235.5L1107.9 191.4M1079.3 235.8L1113.7 191.8M1086.8 235.9L1121.2 191.8M1093.2 235.9L1127.9 191.5M1100.3 235.5L1134.7 191.5M1107.2 235.5L1141.9 191.1M1114.5 235.4L1149.2 191.1M1120.8 235.9L1155.6 191.4M1128.7 235.5L1162.9 191.7M1135.1 235.9L1169.4 191.9M1141.9 235.9L1176.4 191.8M1148.3 235.8L1182.6 191.9M1155.8 235.3L1190.3 191.1M1162.5 235.9L1197.4 191.2M1168.7 236.0L1203.4 191.6M1175.5 235.7L1209.9 191.7M1183.1 235.2L1217.2 191.6M1190.4 235.5L1224.5 191.9M1197.0 235.8L1231.5 191.7M1203.5 235.3L1237.6 191.6M1210.6 235.9L1245.4 191.4M1217.9 235.1L1251.8 191.7M1223.5 235.4L1258.1 191.1M1231.2 235.2L1265.7 191.1M1238.6 235.4L1273.0 191.2M1244.1 235.6L1278.3 191.8M1251.3 235.9L1286.4 191.0M1258.0 235.2L1292.4 191.2M1265.1 235.7L1299.6 191.6M1271.6 235.9L1306.0 191.8M1279.1 235.3L1313.1 191.8M1286.1 236.0L1321.0 191.3M1292.1 235.5L1326.2 191.8M1299.6 236.0L1334.6 191.2M1306.9 235.4L1341.3 191.4M1312.9 235.9L1347.3 191.8M1320.1 235.2L1354.2 191.6M1326.1 235.7L1360.8 191.2M1334.4 235.4L1369.1 191.0M1340.0 235.7L1374.5 191.4M1347.5 235.6L1382.1 191.3M1353.6 235.5L1388.1 191.3M1360.4 235.6L1394.5 191.9M1367.0 235.9L1401.6 191.6M1374.3 235.7L1408.9 191.5M1381.4 235.5L1415.7 191.5M1389.6 235.1L1423.0 192.3M1395.7 235.3L1422.4 201.1M1402.8 235.4L1422.5 210.1M1408.7 235.7L1422.4 218.2M1416.8 235.1L1422.5 227.9" stroke="#f0efe9" stroke-width="1.3" fill="none"/>
<rect x="901" y="71" width="174" height="60" fill="#fcfed8"/>
<path d="M901.3 75.4L904.3 71.5M901.0 84.0L910.9 71.3M901.7 91.7L917.6 71.5M901.2 101.3L924.7 71.2M901.1 110.1L931.7 71.0M901.3 119.6L939.0 71.4M901.2 127.9L945.6 71.2M905.1 130.7L951.6 71.3M913.2 130.5L959.0 71.9M919.7 130.1L965.5 71.6M925.6 130.8L971.9 71.5M934.0 130.7L980.0 71.7M940.4 130.2L986.6 71.1M947.3 130.1L993.3 71.3M953.2 131.0L999.9 71.2M960.6 130.3L1006.8 71.2M967.2 130.8L1013.5 71.6M975.1 130.4L1021.4 71.2M982.0 130.1L1027.7 71.6M987.8 130.2L1033.4 71.8M994.5 130.9L1041.2 71.2M1002.2 130.2L1048.0 71.6M1009.2 130.8L1055.6 71.3M1016.1 130.4L1062.2 71.4M1022.6 130.7L1069.2 71.1M1028.8 131.0L1074.5 72.5M1035.9 130.5L1074.6 81.0M1042.6 130.6L1075.0 89.1M1050.6 130.5L1074.3 100.1M1056.1 130.4L1074.5 106.9M1063.0 130.9L1074.9 115.7M1070.1 130.3L1074.9 124.0" stroke="#f6fa9e" stroke-width="2.1" fill="none"/>
<rect x="1075" y="71" width="174" height="60" fill="#fff3e6"/>
<path d="M1075.4 77.5L1080.0 71.6M1075.5 86.4L1087.1 71.6M1075.5 94.7L1093.8 71.2M1075.6 104.1L1100.9 71.7M1075.6 112.1L1107.0 71.9M1075.2 121.6L1114.4 71.5M1075.6 130.9L1122.4 71.0M1082.1 130.4L1127.9 71.7M1089.0 130.1L1135.0 71.2M1095.8 130.9L1142.6 71.0M1101.7 130.9L1148.2 71.5M1109.3 130.8L1155.3 71.9M1115.8 130.9L1162.5 71.2M1123.8 130.1L1169.9 71.2M1129.5 130.3L1175.6 71.2M1137.6 130.5L1183.6 71.6M1143.7 130.2L1189.6 71.4M1150.6 130.1L1196.7 71.1M1157.5 130.9L1203.8 71.6M1164.4 130.2L1210.6 71.1M1171.2 130.6L1217.1 71.9M1178.7 130.4L1225.0 71.2M1184.3 130.8L1230.6 71.4M1191.1 130.8L1237.2 71.7M1198.6 130.7L1244.5 71.9M1205.0 130.5L1248.9 74.3M1213.1 130.2L1248.8 84.4M1219.7 130.2L1248.8 93.0M1225.7 130.5L1248.3 101.5M1232.4 130.4L1248.6 109.7M1239.6 130.5L1248.3 119.3M1246.3 130.2L1248.7 127.1" stroke="#f5c79e" stroke-width="2.0" fill="none"/>
<rect x="1249" y="71" width="174" height="60" fill="#f8f7f9"/>
<path d="M1249.1 78.4L1254.3 71.8M1249.2 87.3L1261.9 71.0M1249.7 93.7L1267.5 71.0M1249.1 104.8L1275.0 71.7M1249.1 112.0L1280.6 71.6M1249.3 120.6L1287.3 71.9M1249.7 130.1L1295.1 71.9M1254.9 130.8L1301.0 71.7M1262.6 131.0L1309.1 71.5M1269.1 130.6L1315.5 71.1M1276.0 130.1L1321.9 71.3M1283.5 130.9L1329.9 71.5M1289.5 130.6L1335.9 71.2M1296.9 130.9L1343.2 71.7M1303.5 130.9L1350.0 71.3M1310.9 130.1L1356.9 71.3M1317.4 130.1L1362.9 71.8M1324.5 130.7L1371.1 71.2M1330.5 130.9L1377.3 71.0M1338.0 130.6L1384.1 71.5M1344.3 131.0L1390.7 71.7M1352.0 130.5L1398.1 71.5M1359.2 130.1L1404.7 71.8M1365.7 130.6L1412.1 71.3M1372.5 130.1L1418.4 71.4M1378.9 130.6L1422.9 74.3M1386.4 131.0L1422.6 84.7M1393.3 130.8L1422.5 93.4M1399.3 130.8L1422.9 100.7M1406.2 130.2L1422.4 109.5M1413.7 131.0L1422.5 119.7M1420.1 130.4L1422.6 127.2" stroke="#d3cdd9" stroke-width="1.8" fill="none"/>
<rect x="901" y="131" width="174" height="60" fill="#fcfed8"/>
<path d="M901.0 134.7L903.3 131.7M901.4 142.7L910.1 131.6M901.2 152.1L917.2 131.6M901.3 160.2L923.6 131.7M901.4 168.1L930.0 131.6M901.2 177.7L937.2 131.6M901.2 186.3L943.9 131.6M904.6 190.1L950.4 131.4M911.8 190.5L958.0 131.5M917.6 190.9L963.7 131.9M925.2 190.5L971.3 131.5M932.3 190.8L978.9 131.2M939.3 190.6L985.4 131.6M946.5 190.2L992.1 131.8M951.8 190.6L997.8 131.8M959.7 190.9L1006.3 131.1M965.6 190.9L1012.2 131.3M973.6 190.5L1019.8 131.4M979.3 190.6L1025.1 131.9M987.1 190.6L1033.3 131.5M994.4 190.3L1040.6 131.1M1000.7 190.7L1047.0 131.5M1006.9 190.6L1053.3 131.3M1013.7 191.0L1060.4 131.2M1020.9 190.9L1067.6 131.2M1028.1 190.7L1074.6 131.3M1034.7 190.2L1074.9 138.7M1042.2 190.2L1074.9 148.3M1048.6 190.3L1074.5 157.1M1054.9 191.0L1074.7 165.6M1062.2 190.3L1074.8 174.2M1069.1 190.4L1074.4 183.5" stroke="#f6fa9e" stroke-width="2.1" fill="none"/>
<rect x="1075" y="131" width="174" height="60" fill="#fff3e6"/>
<path d="M1075.4 133.3L1076.6 131.9M1075.7 141.3L1083.3 131.7M1075.5 150.8L1090.7 131.3M1075.6 158.9L1097.0 131.4M1075.4 168.8L1104.2 131.9M1075.0 178.4L1111.6 131.6M1075.3 186.2L1117.9 131.8M1078.7 190.6L1124.6 131.8M1085.6 190.5L1131.8 131.5M1093.2 190.4L1139.0 131.7M1098.9 191.0L1145.3 131.6M1106.6 190.3L1152.3 131.7M1112.4 190.8L1159.0 131.1M1120.2 190.9L1166.9 131.1M1127.3 190.5L1173.7 131.1M1134.1 190.3L1180.1 131.5M1140.0 190.3L1186.1 131.4M1147.9 190.1L1193.4 131.8M1154.6 190.9L1201.1 131.3M1160.8 191.0L1206.9 131.9M1167.4 190.8L1213.9 131.3M1174.7 190.2L1220.5 131.5M1181.6 190.6L1228.2 131.0M1188.5 190.2L1234.1 131.8M1195.7 190.8L1242.3 131.2M1201.6 190.5L1247.8 131.4M1209.0 190.5L1248.6 139.9M1215.9 190.2L1248.9 148.1M1223.5 190.5L1249.0 157.8M1229.4 190.5L1248.7 165.8M1236.5 190.7L1248.8 174.9M1243.6 190.7L1248.5 184.5" stroke="#f5c79e" stroke-width="2.0" fill="none"/>
<rect x="1249" y="131" width="174" height="60" fill="#f8f7f9"/>
<path d="M1249.3 137.8L1253.9 131.9M1249.6 145.9L1261.2 131.1M1249.5 154.8L1268.1 131.0M1249.1 165.0L1275.2 131.6M1249.7 171.6L1281.0 131.5M1249.4 182.0L1288.7 131.6M1249.2 190.7L1295.7 131.2M1256.2 190.9L1302.3 131.9M1262.1 190.9L1308.8 131.1M1270.4 190.1L1316.3 131.4M1276.6 190.8L1322.6 131.9M1283.4 190.9L1330.1 131.1M1290.2 191.0L1336.4 131.8M1296.6 190.8L1342.8 131.6M1303.7 190.5L1350.0 131.1M1311.3 190.7L1357.3 131.8M1317.3 190.2L1362.9 131.9M1324.0 191.0L1370.5 131.4M1331.3 190.8L1377.7 131.5M1337.5 190.6L1383.5 131.7M1345.1 190.4L1391.4 131.1M1352.1 190.9L1398.2 131.9M1359.8 190.1L1405.6 131.5M1365.2 190.7L1411.2 131.7M1372.8 190.1L1418.9 131.1M1379.6 190.2L1422.6 135.1M1385.9 190.9L1422.9 143.6M1393.0 190.2L1422.4 152.5M1399.8 190.1L1423.0 160.4M1407.2 190.1L1422.7 170.2M1414.4 190.4L1423.0 179.4M1420.1 190.6L1422.8 187.1" stroke="#d3cdd9" stroke-width="1.8" fill="none"/>
<rect x="901" y="11" width="174" height="60" fill="#fccbcb" stroke="#303235" stroke-width="1.5"/>
<rect x="1075" y="11" width="174" height="60" fill="#fccbcb" stroke="#303235" stroke-width="1.5"/>
<rect x="1249" y="11" width="174" height="60" fill="#fccbcb" stroke="#303235" stroke-width="1.5"/>
<path d="M905.4 70.4Q1163.7 70.6 1423.5 70.6M904.3 71.1Q1163.8 70.3 1423.5 71.2" fill="none" stroke="#303235" stroke-width="1.8" stroke-linecap="round"/>
<path d="M1423.0 70.3Q1423.3 152.5 1423.3 235.3M1422.8 71.3Q1423.4 153.0 1422.4 235.4" fill="none" stroke="#303235" stroke-width="1.8" stroke-linecap="round"/>
<path d="M1423.6 236.7Q1163.6 236.7 905.0 235.4M1422.3 236.0Q1163.6 235.0 905.1 235.3" fill="none" stroke="#303235" stroke-width="1.8" stroke-linecap="round"/>
<path d="M905.1 236.0Q904.7 152.7 904.8 70.5M904.3 235.5Q905.7 152.4 905.7 71.0" fill="none" stroke="#303235" stroke-width="1.8" stroke-linecap="round"/>
<path d="M901.8 71.0Q989.0 70.6 1075.5 71.1M901.5 70.4Q987.8 70.3 1074.6 70.2" fill="none" stroke="#303235" stroke-width="1.8" stroke-linecap="round"/>
<path d="M1074.6 71.7Q1074.0 101.6 1074.3 131.1M1075.5 71.4Q1075.0 101.8 1074.2 130.5" fill="none" stroke="#303235" stroke-width="1.8" stroke-linecap="round"/>
<path d="M1074.2 131.2Q987.5 131.9 901.3 131.6M1074.9 131.8Q987.4 131.6 900.1 131.8" fill="none" stroke="#303235" stroke-width="1.8" stroke-linecap="round"/>
<path d="M900.3 130.5Q900.2 100.7 901.4 71.3M900.4 130.5Q901.3 101.5 900.5 70.7" fill="none" stroke="#303235" stroke-width="1.8" stroke-linecap="round"/>
<path d="M1075.5 71.0Q1163.0 71.7 1249.0 71.5M1075.2 70.5Q1162.8 70.3 1249.2 71.6" fill="none" stroke="#303235" stroke-width="1.8" stroke-linecap="round"/>
<path d="M1249.4 70.7Q1249.2 101.7 1248.4 131.8M1248.3 71.6Q1249.5 102.3 1249.8 131.7" fill="none" stroke="#303235" stroke-width="1.8" stroke-linecap="round"/>
<path d="M1249.5 131.2Q1162.7 132.0 1074.9 131.6M1248.6 131.8Q1161.2 132.7 1075.1 131.8" fill="none" stroke="#303235" stroke-width="1.8" stroke-linecap="round"/>
<path d="M1075.5 130.6Q1075.0 100.5 1075.6 70.5M1074.5 131.0Q1075.5 101.0 1075.7 71.3" fill="none" stroke="#303235" stroke-width="1.8" stroke-linecap="round"/>
<path d="M1249.5 71.5Q1337.0 71.5 1423.3 71.8M1248.3 71.3Q1336.1 71.6 1423.6 70.7" fill="none" stroke="#9673a6" stroke-width="1.8" stroke-linecap="round"/>
<path d="M1423.5 70.1Q1422.6 100.7 1423.0 130.1M1422.9 71.2Q1422.4 100.7 1422.9 130.7" fill="none" stroke="#9673a6" stroke-width="1.8" stroke-linecap="round"/>
<path d="M1423.6 131.2Q1335.7 131.1 1248.6 130.3M1422.9 131.3Q1336.6 130.0 1249.6 130.3" fill="none" stroke="#9673a6" stroke-width="1.8" stroke-linecap="round"/>
<path d="M1249.6 130.4Q1248.8 100.6 1248.6 71.8M1249.7 131.2Q1249.7 101.8 1249.7 70.8" fill="none" stroke="#9673a6" stroke-width="1.8" stroke-linecap="round"/>
<path d="M901.0 131.9Q987.1 131.8 1074.4 131.6M900.1 130.4Q988.5 130.2 1075.8 130.9" fill="none" stroke="#303235" stroke-width="1.8" stroke-linecap="round"/>
<path d="M1074.7 130.3Q1074.9 160.7 1075.1 191.7M1075.8 131.7Q1075.8 160.9 1075.3 190.2" fill="none" stroke="#303235" stroke-width="1.8" stroke-linecap="round"/>
<path d="M1075.8 190.8Q988.3 191.0 901.3 191.2M1075.3 191.7Q989.0 190.4 901.0 190.8" fill="none" stroke="#303235" stroke-width="1.8" stroke-linecap="round"/>
<path d="M901.6 191.3Q901.8 161.8 901.1 130.9M901.4 191.4Q900.1 161.9 900.2 130.7" fill="none" stroke="#303235" stroke-width="1.8" stroke-linecap="round"/>
<path d="M1075.7 130.4Q1161.6 130.6 1249.2 131.1M1075.4 131.3Q1161.6 131.4 1248.6 131.5" fill="none" stroke="#303235" stroke-width="1.8" stroke-linecap="round"/>
<path d="M1248.9 131.9Q1249.4 161.5 1249.3 191.5M1249.8 131.4Q1249.0 161.1 1249.3 190.6" fill="none" stroke="#303235" stroke-width="1.8" stroke-linecap="round"/>
<path d="M1249.6 191.5Q1162.2 191.6 1074.7 190.4M1248.4 191.4Q1160.6 190.7 1074.4 190.7" fill="none" stroke="#303235" stroke-width="1.8" stroke-linecap="round"/>
<path d="M1074.8 191.8Q1075.0 161.9 1075.8 130.4M1074.5 190.7Q1074.2 160.3 1074.9 130.3" fill="none" stroke="#303235" stroke-width="1.8" stroke-linecap="round"/>
<path d="M1248.8 131.8Q1336.4 131.1 1422.6 130.5M1249.6 131.2Q1335.9 131.4 1423.5 130.7" fill="none" stroke="#9673a6" stroke-width="1.8" stroke-linecap="round"/>
<path d="M1422.9 131.1Q1422.7 161.0 1423.3 191.5M1423.8 131.1Q1422.8 161.6 1422.6 191.2" fill="none" stroke="#9673a6" stroke-width="1.8" stroke-linecap="round"/>
<path d="M1422.2 191.6Q1336.4 190.7 1249.1 190.7M1422.5 190.2Q1336.1 190.7 1249.1 191.5" fill="none" stroke="#9673a6" stroke-width="1.8" stroke-linecap="round"/>
<path d="M1249.6 190.3Q1249.9 161.0 1248.7 131.3M1249.3 191.5Q1249.5 161.4 1248.8 131.8" fill="none" stroke="#9673a6" stroke-width="1.8" stroke-linecap="round"/>
<text x="988.0" y="43" font-size="23.5" text-anchor="middle" dominant-baseline="central"><tspan font-size="25" letter-spacing="-0.8" baseline-shift="1.8">文件</tspan> inode <tspan font-size="25" letter-spacing="-0.8" baseline-shift="1.8">号</tspan></text>
<text x="1162.0" y="43" font-size="23.5" text-anchor="middle" dominant-baseline="central"><tspan font-size="25" letter-spacing="-0.8" baseline-shift="1.8">文件类型</tspan></text>
<text x="1336.0" y="43" font-size="23.5" text-anchor="middle" dominant-baseline="central"><tspan font-size="25" letter-spacing="-0.8" baseline-shift="1.8">文件名</tspan></text>
<text x="988.0" y="103" font-size="23.5" text-anchor="middle" dominant-baseline="central">iode a</text>
<text x="1162.0" y="103" font-size="23.5" text-anchor="middle" dominant-baseline="central"><tspan font-size="25" letter-spacing="-0.8" baseline-shift="1.8">文件</tspan></text>
<text x="1336.0" y="103" font-size="23.5" text-anchor="middle" dominant-baseline="central"><tspan font-size="25" letter-spacing="-0.8" baseline-shift="1.8">文件</tspan> A</text>
<text x="988.0" y="163" font-size="23.5" text-anchor="middle" dominant-baseline="central">iode b</text>
<text x="1162.0" y="163" font-size="23.5" text-anchor="middle" dominant-baseline="central"><tspan font-size="25" letter-spacing="-0.8" baseline-shift="1.8">文件</tspan></text>
<text x="1336.0" y="163" font-size="23.5" text-anchor="middle" dominant-baseline="central"><tspan font-size="25" letter-spacing="-0.8" baseline-shift="1.8">文件</tspan> B</text>
<rect x="903" y="521" width="522" height="44" fill="#fdfdfc"/>
<path d="M903.3 524.7L906.0 521.2M903.4 533.4L912.7 521.5M903.7 541.5L919.6 521.1M903.0 550.4L925.7 521.4M903.6 558.7L932.6 521.6M906.0 564.6L939.6 521.5M912.7 564.2L945.9 521.7M919.9 564.9L953.7 521.6M926.9 564.5L960.2 521.8M934.1 564.3L967.4 521.8M940.7 564.2L974.3 521.1M947.5 564.3L980.9 521.6M953.3 564.9L987.1 521.6M961.1 564.7L995.1 521.2M966.9 564.9L1000.7 521.6M975.4 564.2L1008.9 521.3M981.3 564.9L1015.0 521.8M987.5 565.0L1021.5 521.6M994.3 564.7L1028.4 521.1M1001.8 564.5L1035.2 521.8M1008.3 564.2L1042.0 521.1M1015.3 564.4L1048.9 521.3M1022.2 564.5L1056.0 521.2M1029.5 564.8L1063.1 521.8M1036.6 564.5L1070.6 521.0M1043.1 565.0L1077.1 521.5M1049.4 564.9L1083.3 521.6M1057.1 564.4L1090.8 521.4M1063.6 564.4L1097.4 521.2M1071.3 564.1L1104.4 521.8M1077.8 564.7L1111.2 521.9M1083.4 564.5L1117.4 521.1M1091.0 564.4L1124.4 521.7M1097.6 564.7L1131.6 521.2M1104.4 564.7L1138.4 521.2M1111.9 564.5L1145.6 521.4M1118.1 564.3L1151.8 521.2M1124.9 564.5L1158.4 521.7M1133.0 564.3L1166.1 521.9M1139.7 564.3L1173.1 521.7M1144.9 564.8L1179.1 521.0M1153.4 564.3L1186.7 521.6M1159.0 564.7L1193.0 521.2M1166.9 564.1L1200.3 521.3M1172.3 564.8L1206.3 521.3M1180.9 564.2L1214.3 521.4M1186.0 564.9L1220.2 521.1M1194.2 564.6L1227.5 521.9M1201.5 564.2L1234.9 521.5M1207.7 564.9L1241.9 521.1M1214.4 564.5L1248.3 521.2M1220.4 565.0L1254.1 521.9M1228.7 564.1L1261.6 521.9M1235.0 564.3L1268.5 521.4M1242.5 564.2L1276.1 521.1M1247.6 564.8L1281.4 521.6M1254.9 565.0L1288.6 521.8M1262.7 564.6L1296.7 521.0M1269.8 564.5L1303.7 521.1M1275.8 564.4L1309.1 521.8M1282.9 564.4L1316.7 521.2M1289.6 564.1L1323.0 521.4M1296.0 564.4L1329.9 521.1M1302.9 564.6L1336.5 521.6M1310.6 564.3L1344.1 521.4M1316.6 564.3L1350.4 521.1M1323.8 564.6L1357.4 521.6M1330.9 564.8L1364.7 521.6M1337.9 564.6L1371.9 521.1M1345.2 564.4L1379.1 521.1M1351.3 564.1L1384.8 521.2M1358.3 564.3L1391.5 521.8M1365.5 564.3L1399.3 521.0M1371.7 564.1L1404.7 521.8M1377.7 565.0L1411.9 521.2M1386.1 564.8L1419.8 521.6M1393.2 564.4L1424.3 524.6M1398.7 564.9L1425.0 531.2M1406.3 564.9L1424.3 541.9M1413.1 564.8L1424.4 550.4M1419.4 564.5L1424.9 557.4" stroke="#f0efe9" stroke-width="1.3" fill="none"/>
<rect x="903" y="401" width="174" height="60" fill="#fcfed8"/>
<path d="M903.7 407.8L909.0 401.0M903.4 416.8L915.2 401.8M903.5 424.9L921.7 401.6M903.1 434.7L929.4 401.1M903.2 442.8L935.6 401.4M903.6 450.1L941.9 401.0M903.7 460.2L949.7 401.4M909.4 460.4L955.6 401.2M916.3 460.9L962.4 401.9M923.5 460.7L970.1 401.1M931.0 460.2L976.6 401.8M936.6 460.7L982.9 401.3M944.3 460.9L990.6 401.6M951.9 460.3L998.2 401.0M956.9 460.9L1003.2 401.7M964.8 460.5L1011.0 401.4M971.5 460.4L1017.4 401.6M979.2 460.3L1024.9 401.8M986.1 460.2L1031.8 401.7M991.5 460.4L1037.3 401.8M999.1 460.2L1045.2 401.2M1006.4 460.6L1052.5 401.7M1012.1 460.7L1058.5 401.3M1018.9 460.9L1065.4 401.4M1027.2 460.4L1072.9 401.9M1033.9 460.2L1076.3 405.9M1040.3 460.7L1076.8 414.0M1046.4 461.0L1076.8 422.1M1054.7 460.1L1076.8 431.8M1061.2 460.3L1076.3 440.9M1067.9 460.5L1076.9 449.0M1074.7 460.7L1076.5 458.3" stroke="#f6fa9e" stroke-width="2.1" fill="none"/>
<rect x="1077" y="401" width="174" height="60" fill="#fff3e6"/>
<path d="M1077.7 403.4L1079.5 401.2M1077.5 412.4L1086.0 401.5M1077.3 422.2L1093.2 401.9M1077.7 430.0L1100.3 401.1M1077.2 438.5L1105.8 401.9M1077.2 446.9L1112.5 401.7M1077.1 457.6L1121.1 401.4M1081.4 460.3L1127.2 401.7M1088.0 460.8L1134.5 401.2M1094.1 460.3L1140.3 401.2M1101.5 460.1L1147.2 401.6M1108.6 460.4L1154.6 401.6M1115.4 460.7L1162.0 401.1M1121.1 461.0L1167.7 401.3M1128.1 460.9L1174.5 401.5M1136.7 460.3L1182.8 401.3M1142.8 460.8L1189.5 401.1M1149.1 460.6L1195.2 401.7M1156.4 460.3L1202.7 401.1M1163.8 460.7L1209.8 401.8M1169.6 460.2L1215.7 401.2M1177.7 460.2L1223.5 401.6M1183.1 461.0L1229.8 401.2M1191.0 460.9L1237.3 401.6M1197.7 460.4L1244.0 401.2M1203.5 460.9L1249.6 401.9M1211.1 460.4L1250.6 409.9M1217.3 460.9L1251.0 417.8M1225.1 460.9L1250.3 428.7M1231.7 460.3L1250.9 435.7M1238.8 460.8L1250.7 445.5M1245.2 460.9L1250.8 453.7" stroke="#f5c79e" stroke-width="2.0" fill="none"/>
<rect x="1251" y="401" width="174" height="60" fill="#f8f7f9"/>
<path d="M1251.3 407.2L1255.6 401.7M1251.1 416.0L1262.7 401.2M1251.3 425.0L1269.5 401.6M1251.6 433.4L1276.9 401.0M1251.6 442.6L1283.9 401.2M1251.3 450.5L1289.9 401.1M1251.5 459.9L1297.4 401.1M1257.3 460.5L1303.7 401.2M1264.3 460.6L1310.8 401.1M1270.9 460.7L1317.1 401.4M1279.2 460.5L1325.6 401.1M1285.1 460.3L1331.0 401.5M1293.1 460.1L1338.6 401.8M1298.8 460.1L1344.6 401.5M1305.2 460.8L1351.4 401.8M1312.0 460.9L1358.6 401.3M1320.2 460.6L1366.2 401.7M1325.8 460.6L1372.1 401.3M1333.0 460.4L1379.1 401.3M1339.9 460.1L1385.7 401.5M1346.2 461.0L1392.5 401.6M1353.5 461.0L1400.0 401.4M1361.1 460.5L1407.4 401.2M1367.6 460.4L1413.6 401.6M1374.1 460.2L1419.7 401.9M1381.9 460.2L1424.7 405.4M1388.5 460.8L1424.8 414.3M1395.4 460.1L1424.9 422.4M1401.0 461.0L1424.7 430.7M1407.9 460.8L1424.4 439.6M1416.0 460.1L1424.7 448.9M1422.3 461.0L1424.3 458.4" stroke="#d3cdd9" stroke-width="1.8" fill="none"/>
<rect x="903" y="461" width="174" height="60" fill="#fcfed8"/>
<path d="M903.4 462.5L903.9 461.9M903.7 470.9L911.0 461.6M903.6 479.2L917.7 461.2M903.3 489.9L925.7 461.2M903.2 498.7L932.4 461.4M903.5 506.0L938.6 461.0M903.1 515.3L944.9 461.8M905.4 520.4L951.6 461.2M912.9 520.5L958.8 461.7M919.0 520.8L965.6 461.1M927.1 520.9L973.7 461.1M933.6 520.5L979.4 461.8M939.5 520.8L986.0 461.2M947.3 520.6L993.5 461.4M954.7 520.4L1000.5 461.8M961.4 520.7L1007.4 461.9M967.3 521.0L1013.4 461.9M973.6 521.0L1020.3 461.3M981.5 520.1L1027.0 461.8M988.2 520.5L1034.0 461.8M995.7 520.4L1041.7 461.5M1001.2 520.8L1047.4 461.6M1009.2 520.2L1054.8 461.8M1016.2 520.8L1062.9 461.1M1023.2 520.5L1069.5 461.2M1029.5 520.8L1076.0 461.2M1036.1 520.5L1076.5 468.8M1042.6 520.3L1076.5 476.9M1050.0 520.4L1076.4 486.6M1056.1 520.6L1076.5 494.4M1064.1 520.4L1076.9 504.0M1071.4 520.3L1076.8 513.4" stroke="#f6fa9e" stroke-width="2.1" fill="none"/>
<rect x="1077" y="461" width="174" height="60" fill="#fff3e6"/>
<path d="M1077.2 465.5L1080.3 461.4M1077.7 473.6L1087.3 461.2M1077.3 482.4L1093.5 461.6M1077.1 491.5L1100.8 461.2M1077.2 499.1L1106.9 461.0M1077.3 507.5L1113.3 461.4M1077.4 516.0L1119.7 461.9M1081.4 520.7L1127.5 461.7M1087.9 520.8L1134.3 461.5M1094.5 520.4L1140.8 461.2M1102.1 520.1L1147.7 461.7M1109.4 520.4L1155.4 461.6M1116.3 520.1L1162.4 461.2M1122.8 520.7L1169.3 461.2M1129.9 520.4L1175.8 461.8M1136.9 520.4L1183.2 461.2M1142.4 520.5L1188.3 461.7M1149.3 520.9L1196.1 461.0M1156.4 520.3L1202.8 461.0M1163.1 520.7L1209.2 461.7M1170.9 521.0L1217.7 461.1M1178.4 520.1L1224.4 461.1M1184.0 520.5L1230.2 461.3M1190.9 520.5L1237.2 461.2M1196.9 520.9L1243.6 461.2M1204.2 520.4L1250.1 461.7M1211.5 520.3L1250.5 470.3M1218.2 520.5L1250.9 478.8M1226.0 520.5L1251.0 488.5M1231.8 520.3L1250.7 496.1M1239.2 520.8L1250.4 506.4M1246.0 520.9L1250.6 515.1" stroke="#f5c79e" stroke-width="2.0" fill="none"/>
<rect x="1251" y="461" width="174" height="60" fill="#f8f7f9"/>
<path d="M1251.6 462.3L1252.0 461.7M1251.1 470.8L1258.3 461.6M1251.1 480.2L1266.0 461.2M1251.1 489.0L1272.5 461.6M1251.2 497.0L1279.0 461.4M1251.5 505.9L1286.6 461.0M1251.2 515.5L1293.6 461.3M1254.1 520.3L1300.0 461.6M1261.0 520.8L1307.5 461.3M1267.5 520.8L1314.1 461.1M1274.1 520.3L1319.8 461.8M1281.9 520.1L1327.4 461.8M1287.6 520.7L1333.7 461.7M1294.3 520.4L1340.7 461.1M1301.1 520.5L1347.5 461.1M1309.5 520.2L1355.4 461.4M1314.7 520.9L1361.1 461.5M1322.2 520.7L1368.3 461.7M1329.4 520.3L1375.6 461.1M1335.3 520.6L1381.5 461.5M1342.6 520.4L1388.8 461.2M1349.4 520.5L1395.4 461.7M1356.9 520.6L1403.2 461.4M1364.4 520.1L1410.1 461.6M1369.6 520.6L1415.7 461.6M1376.4 521.0L1422.6 461.9M1384.3 520.9L1424.7 469.3M1390.9 520.7L1424.9 477.1M1398.3 520.3L1424.7 486.5M1403.8 520.6L1424.9 493.6M1411.8 521.0L1424.8 504.3M1418.4 520.9L1424.9 512.5M1424.2 520.8L1424.6 520.3" stroke="#d3cdd9" stroke-width="1.8" fill="none"/>
<rect x="903" y="341" width="174" height="60" fill="#fccbcb" stroke="#303235" stroke-width="1.5"/>
<rect x="1077" y="341" width="174" height="60" fill="#fccbcb" stroke="#303235" stroke-width="1.5"/>
<rect x="1251" y="341" width="174" height="60" fill="#fccbcb" stroke="#303235" stroke-width="1.5"/>
<path d="M903.6 400.4Q1163.9 400.6 1424.4 401.5M902.3 400.5Q1163.7 400.9 1425.8 400.3" fill="none" stroke="#303235" stroke-width="1.8" stroke-linecap="round"/>
<path d="M1425.7 401.7Q1425.5 483.4 1425.0 565.8M1424.9 401.4Q1424.6 483.7 1425.4 564.3" fill="none" stroke="#303235" stroke-width="1.8" stroke-linecap="round"/>
<path d="M1424.3 565.6Q1163.1 565.0 902.7 564.5M1425.9 564.4Q1164.2 565.0 903.6 564.7" fill="none" stroke="#303235" stroke-width="1.8" stroke-linecap="round"/>
<path d="M902.7 564.4Q903.4 483.1 902.9 401.6M902.1 565.5Q903.5 483.3 903.2 401.7" fill="none" stroke="#303235" stroke-width="1.8" stroke-linecap="round"/>
<path d="M903.6 401.6Q989.9 400.9 1076.6 400.8M902.8 400.3Q989.5 401.3 1076.5 401.7" fill="none" stroke="#303235" stroke-width="1.8" stroke-linecap="round"/>
<path d="M1077.7 401.5Q1077.7 432.5 1076.5 461.8M1077.4 401.5Q1077.8 430.8 1077.6 460.6" fill="none" stroke="#303235" stroke-width="1.8" stroke-linecap="round"/>
<path d="M1077.6 460.3Q990.9 460.2 903.1 460.7M1077.6 461.6Q991.4 461.4 903.7 460.4" fill="none" stroke="#303235" stroke-width="1.8" stroke-linecap="round"/>
<path d="M903.3 461.3Q902.8 431.4 902.2 401.7M902.7 461.5Q902.6 431.3 903.5 401.7" fill="none" stroke="#303235" stroke-width="1.8" stroke-linecap="round"/>
<path d="M1076.5 400.3Q1164.2 399.7 1250.7 400.1M1076.2 400.2Q1163.8 400.2 1251.4 400.5" fill="none" stroke="#303235" stroke-width="1.8" stroke-linecap="round"/>
<path d="M1251.5 401.8Q1251.8 431.5 1250.7 461.2M1251.7 401.4Q1251.3 430.8 1250.7 461.7" fill="none" stroke="#303235" stroke-width="1.8" stroke-linecap="round"/>
<path d="M1251.2 461.6Q1163.9 462.0 1077.0 461.0M1251.3 460.5Q1164.9 461.0 1076.8 460.8" fill="none" stroke="#303235" stroke-width="1.8" stroke-linecap="round"/>
<path d="M1076.3 461.7Q1076.1 431.8 1076.2 401.2M1076.9 460.3Q1077.5 430.7 1077.0 401.6" fill="none" stroke="#303235" stroke-width="1.8" stroke-linecap="round"/>
<path d="M1250.5 401.4Q1338.7 401.9 1425.5 400.5M1250.9 400.8Q1337.6 400.9 1425.4 401.8" fill="none" stroke="#9673a6" stroke-width="1.8" stroke-linecap="round"/>
<path d="M1424.7 401.4Q1424.6 431.6 1424.4 461.1M1424.4 401.8Q1425.7 430.9 1425.9 461.1" fill="none" stroke="#9673a6" stroke-width="1.8" stroke-linecap="round"/>
<path d="M1425.7 461.1Q1338.4 462.1 1251.5 461.7M1424.5 460.1Q1338.5 461.7 1251.0 461.7" fill="none" stroke="#9673a6" stroke-width="1.8" stroke-linecap="round"/>
<path d="M1251.0 461.8Q1251.3 431.6 1251.1 400.4M1250.9 461.2Q1250.6 430.9 1250.6 400.6" fill="none" stroke="#9673a6" stroke-width="1.8" stroke-linecap="round"/>
<path d="M902.9 460.3Q989.9 460.9 1076.1 460.7M902.5 460.6Q990.0 461.2 1077.0 460.4" fill="none" stroke="#303235" stroke-width="1.8" stroke-linecap="round"/>
<path d="M1076.5 461.2Q1077.3 491.7 1077.4 521.4M1076.6 461.6Q1078.0 490.8 1077.8 520.2" fill="none" stroke="#303235" stroke-width="1.8" stroke-linecap="round"/>
<path d="M1076.3 520.2Q989.3 520.7 903.5 521.3M1077.2 521.9Q989.5 521.1 902.7 521.5" fill="none" stroke="#303235" stroke-width="1.8" stroke-linecap="round"/>
<path d="M902.4 520.8Q902.2 490.2 903.2 460.6M902.3 520.4Q901.9 490.7 902.7 461.0" fill="none" stroke="#303235" stroke-width="1.8" stroke-linecap="round"/>
<path d="M1076.9 461.9Q1163.9 461.3 1251.0 461.8M1077.2 460.4Q1164.1 461.1 1250.4 460.2" fill="none" stroke="#303235" stroke-width="1.8" stroke-linecap="round"/>
<path d="M1250.8 460.7Q1251.2 490.5 1250.9 520.7M1250.4 461.7Q1251.4 491.3 1251.1 520.1" fill="none" stroke="#303235" stroke-width="1.8" stroke-linecap="round"/>
<path d="M1250.7 521.2Q1164.1 520.7 1077.8 520.8M1251.1 521.3Q1163.6 521.3 1077.4 521.8" fill="none" stroke="#303235" stroke-width="1.8" stroke-linecap="round"/>
<path d="M1077.6 521.5Q1077.1 492.2 1077.2 461.3M1077.1 520.8Q1077.5 491.1 1076.4 460.3" fill="none" stroke="#303235" stroke-width="1.8" stroke-linecap="round"/>
<path d="M1250.1 460.7Q1337.3 461.5 1425.0 461.0M1250.7 461.1Q1338.2 460.9 1425.8 461.3" fill="none" stroke="#9673a6" stroke-width="1.8" stroke-linecap="round"/>
<path d="M1424.8 461.2Q1424.9 490.7 1425.5 520.6M1424.8 461.7Q1424.6 491.7 1425.1 520.6" fill="none" stroke="#9673a6" stroke-width="1.8" stroke-linecap="round"/>
<path d="M1424.4 521.3Q1336.5 521.4 1250.1 520.4M1424.4 520.5Q1337.7 520.9 1250.2 520.6" fill="none" stroke="#9673a6" stroke-width="1.8" stroke-linecap="round"/>
<path d="M1251.7 521.8Q1250.7 492.5 1251.1 461.8M1250.9 520.4Q1251.0 490.3 1251.4 461.6" fill="none" stroke="#9673a6" stroke-width="1.8" stroke-linecap="round"/>
<text x="990.0" y="373" font-size="23.5" text-anchor="middle" dominant-baseline="central"><tspan font-size="25" letter-spacing="-0.8" baseline-shift="1.8">文件</tspan> inode <tspan font-size="25" letter-spacing="-0.8" baseline-shift="1.8">号</tspan></text>
<text x="1164.0" y="373" font-size="23.5" text-anchor="middle" dominant-baseline="central"><tspan font-size="25" letter-spacing="-0.8" baseline-shift="1.8">文件类型</tspan></text>
<text x="1338.0" y="373" font-size="23.5" text-anchor="middle" dominant-baseline="central"><tspan font-size="25" letter-spacing="-0.8" baseline-shift="1.8">文件名</tspan></text>
<text x="990.0" y="433" font-size="23.5" text-anchor="middle" dominant-baseline="central">iode c</text>
<text x="1164.0" y="433" font-size="23.5" text-anchor="middle" dominant-baseline="central"><tspan font-size="25" letter-spacing="-0.8" baseline-shift="1.8">文件</tspan></text>
<text x="1338.0" y="433" font-size="23.5" text-anchor="middle" dominant-baseline="central"><tspan font-size="25" letter-spacing="-0.8" baseline-shift="1.8">文件</tspan> C</text>
<text x="990.0" y="493" font-size="23.5" text-anchor="middle" dominant-baseline="central">iode d</text>
<text x="1164.0" y="493" font-size="23.5" text-anchor="middle" dominant-baseline="central"><tspan font-size="25" letter-spacing="-0.8" baseline-shift="1.8">目录</tspan></text>
<text x="1338.0" y="493" font-size="23.5" text-anchor="middle" dominant-baseline="central"><tspan font-size="25" letter-spacing="-0.8" baseline-shift="1.8">目录</tspan> D</text>
<rect x="903" y="836" width="522" height="45" fill="#fdfdfc"/>
<path d="M903.4 843.6L908.6 836.9M903.0 851.5L915.0 836.1M903.5 859.6L921.5 836.6M903.1 869.1L928.8 836.2M903.5 878.3L935.8 836.9M908.6 880.1L942.7 836.4M915.0 880.8L949.8 836.2M923.3 880.1L957.2 836.7M928.3 880.8L963.2 836.1M935.8 880.3L970.4 836.1M942.9 880.4L977.5 836.0M949.7 880.3L983.8 836.5M956.6 880.2L990.7 836.6M963.0 880.6L997.1 836.9M971.0 880.1L1005.1 836.5M976.2 880.8L1010.9 836.4M983.8 881.0L1018.3 836.8M991.1 880.5L1025.9 836.0M997.9 880.6L1032.3 836.6M1004.7 880.3L1039.0 836.4M1012.3 880.1L1046.0 836.9M1018.1 880.7L1052.8 836.4M1024.9 880.1L1058.8 836.7M1032.5 880.2L1066.3 836.9M1038.8 880.7L1073.2 836.7M1045.2 880.4L1079.8 836.1M1052.9 880.5L1087.5 836.3M1059.6 880.9L1094.0 836.9M1066.2 880.9L1100.7 836.7M1073.3 880.1L1107.4 836.6M1080.0 880.1L1114.4 836.1M1086.8 880.9L1121.6 836.3M1093.2 880.2L1127.4 836.4M1100.5 880.8L1134.9 836.7M1107.1 880.9L1141.8 836.5M1114.2 880.8L1148.7 836.6M1120.5 880.6L1154.7 836.9M1128.8 880.1L1162.9 836.4M1134.9 880.2L1168.9 836.7M1141.7 880.2L1175.9 836.4M1149.0 880.6L1183.7 836.1M1155.3 880.9L1189.8 836.6M1161.7 880.1L1195.7 836.5M1169.0 880.9L1203.5 836.6M1175.3 880.8L1209.7 836.8M1181.8 880.5L1216.6 836.1M1190.2 880.2L1224.7 836.0M1196.2 880.6L1230.5 836.7M1203.4 880.7L1237.6 836.9M1209.2 880.9L1243.7 836.8M1216.0 880.8L1250.7 836.5M1223.2 880.8L1257.5 836.9M1230.7 880.3L1265.1 836.2M1237.8 880.8L1272.1 836.9M1244.8 880.1L1278.6 836.7M1251.3 880.5L1285.4 836.8M1257.6 880.9L1292.0 836.9M1265.4 880.4L1299.5 836.7M1271.2 880.6L1305.4 836.8M1279.5 880.1L1313.9 836.2M1285.7 880.5L1320.1 836.4M1291.4 880.9L1326.1 836.4M1298.9 880.7L1333.6 836.3M1306.2 880.3L1340.3 836.6M1312.5 880.2L1346.8 836.3M1320.7 880.1L1355.0 836.1M1326.9 880.1L1361.1 836.4M1333.3 880.7L1368.2 836.0M1339.4 880.9L1374.3 836.3M1347.3 880.5L1381.3 836.9M1354.1 880.7L1388.3 836.9M1361.0 880.5L1395.1 836.8M1367.7 880.7L1402.2 836.6M1374.5 880.1L1408.7 836.2M1381.7 880.9L1416.8 836.0M1388.0 880.8L1422.6 836.5M1394.7 880.2L1424.5 842.0M1402.4 880.1L1424.3 852.2M1409.1 880.3L1425.0 860.0M1414.8 880.6L1424.3 868.5M1422.2 880.5L1425.0 876.9" stroke="#f0efe9" stroke-width="1.3" fill="none"/>
<rect x="903" y="716" width="174" height="60" fill="#fcfed8"/>
<path d="M903.4 719.9L905.9 716.8M903.1 727.3L911.8 716.2M903.1 737.7L919.4 716.9M903.7 744.7L925.7 716.5M903.7 753.5L932.7 716.4M903.0 763.8L939.8 716.8M903.1 773.1L947.1 716.7M906.7 775.9L953.2 716.3M914.7 775.1L960.2 716.9M921.9 775.4L967.8 716.6M927.5 775.3L973.5 716.5M934.8 775.1L980.8 716.2M940.8 775.9L987.4 716.1M948.8 775.2L995.0 716.2M955.3 775.5L1001.4 716.5M962.0 775.5L1008.5 716.0M968.3 775.6L1014.6 716.2M976.0 775.8L1022.1 716.8M982.0 775.9L1028.5 716.5M989.2 775.7L1035.3 716.7M996.1 775.4L1041.9 716.8M1003.2 775.5L1049.0 716.9M1010.0 775.8L1056.7 716.1M1016.2 775.7L1062.8 716.1M1024.0 775.6L1070.3 716.3M1031.0 775.1L1076.8 716.5M1036.8 775.7L1076.8 724.6M1045.1 775.3L1076.7 735.0M1050.4 776.0L1076.9 742.0M1058.7 775.4L1076.9 752.1M1064.8 775.9L1076.6 760.8M1071.2 775.9L1076.5 769.2" stroke="#f6fa9e" stroke-width="2.1" fill="none"/>
<rect x="1077" y="716" width="174" height="60" fill="#fff3e6"/>
<path d="M1077.1 722.1L1081.4 716.6M1077.5 730.3L1088.6 716.1M1077.0 740.6L1096.1 716.2M1077.1 748.2L1102.3 716.1M1077.7 756.8L1109.4 716.3M1077.5 765.1L1115.7 716.2M1077.5 774.1L1122.6 716.4M1082.5 775.9L1129.0 716.5M1091.3 775.1L1137.4 716.1M1097.1 775.5L1143.4 716.2M1104.2 775.5L1150.1 716.8M1110.8 775.1L1156.4 716.8M1117.3 775.9L1163.7 716.5M1124.1 775.4L1169.9 716.7M1131.8 775.1L1177.9 716.0M1138.7 775.2L1184.9 716.1M1144.4 775.9L1190.9 716.6M1152.1 775.7L1198.2 716.7M1158.7 775.3L1204.9 716.3M1166.3 775.6L1212.8 716.0M1172.0 775.3L1217.7 716.8M1179.3 775.9L1225.4 716.8M1186.2 775.9L1232.7 716.4M1192.9 776.0L1239.8 716.0M1199.9 775.2L1245.4 716.9M1206.7 775.1L1250.4 719.2M1214.2 775.4L1250.3 729.3M1221.0 775.1L1250.6 737.2M1226.8 775.5L1250.6 745.0M1233.8 775.6L1250.6 754.1M1240.9 775.8L1250.8 763.1M1247.8 775.5L1250.7 771.9" stroke="#f5c79e" stroke-width="2.0" fill="none"/>
<rect x="1251" y="716" width="174" height="60" fill="#f8f7f9"/>
<path d="M1251.4 720.7L1254.9 716.3M1251.5 730.5L1262.2 716.7M1251.2 739.2L1268.6 716.9M1251.3 747.8L1275.9 716.3M1251.5 756.0L1282.2 716.8M1251.5 765.0L1289.6 716.2M1251.3 774.0L1296.4 716.3M1257.0 775.3L1302.8 716.7M1263.2 775.8L1309.3 716.7M1271.1 775.4L1317.0 716.6M1277.7 775.7L1324.3 716.1M1283.9 776.0L1330.0 716.9M1291.4 775.4L1337.1 716.9M1298.4 775.8L1344.9 716.3M1304.6 775.2L1350.3 716.7M1311.7 775.7L1358.1 716.3M1318.8 775.3L1364.5 716.8M1326.3 775.2L1372.3 716.4M1332.1 775.7L1378.1 716.9M1338.5 775.9L1385.1 716.3M1347.0 775.2L1393.0 716.3M1353.8 775.2L1399.7 716.4M1359.5 775.3L1405.6 716.4M1366.4 775.1L1412.3 716.4M1373.4 775.4L1419.7 716.2M1379.5 775.6L1424.7 717.8M1386.4 775.6L1424.4 726.9M1393.9 775.4L1424.5 736.2M1400.1 776.0L1424.5 744.7M1407.8 775.7L1424.9 753.9M1415.5 775.1L1424.8 763.2M1421.7 775.5L1424.8 771.5" stroke="#d3cdd9" stroke-width="1.8" fill="none"/>
<rect x="903" y="776" width="174" height="60" fill="#fcfed8"/>
<path d="M903.4 784.8L909.9 776.5M903.2 792.9L916.1 776.3M903.3 802.1L923.0 776.9M903.7 809.7L929.9 776.2M903.2 820.6L937.6 776.6M903.0 828.7L943.6 776.8M905.0 835.7L951.1 776.7M911.9 835.1L958.0 776.1M918.0 835.8L964.3 776.6M925.9 835.2L971.8 776.5M932.2 835.2L978.4 776.1M938.8 835.3L984.8 776.4M946.3 835.9L992.7 776.4M951.9 836.0L998.7 776.1M958.8 835.7L1005.1 776.4M966.2 835.7L1012.4 776.7M973.6 835.1L1019.6 776.2M980.1 835.5L1026.3 776.4M987.3 835.8L1033.4 776.8M993.5 835.7L1039.6 776.6M1000.6 835.7L1047.2 776.1M1008.1 835.7L1054.6 776.1M1014.6 835.5L1060.9 776.3M1021.2 835.2L1067.2 776.3M1028.3 835.1L1074.2 776.3M1034.5 835.8L1076.5 782.1M1042.0 835.6L1076.7 791.1M1048.4 835.3L1076.7 799.1M1055.9 835.6L1076.5 809.3M1061.4 835.8L1076.3 816.7M1069.6 835.4L1076.6 826.3M1075.8 835.8L1076.9 834.4" stroke="#f6fa9e" stroke-width="2.1" fill="none"/>
<rect x="1077" y="776" width="174" height="60" fill="#fff3e6"/>
<path d="M1077.2 781.8L1081.2 776.6M1077.5 789.1L1087.6 776.2M1077.2 798.9L1094.7 776.5M1077.4 806.8L1101.0 776.6M1077.2 815.7L1107.8 776.6M1077.5 825.0L1115.2 776.7M1077.2 834.2L1122.3 776.4M1083.4 835.5L1129.3 776.7M1089.5 835.6L1135.3 776.9M1097.2 835.4L1143.5 776.1M1103.3 836.0L1149.4 776.9M1111.2 835.3L1157.3 776.3M1117.4 835.8L1163.6 776.8M1123.7 836.0L1169.9 776.8M1131.0 835.2L1176.8 776.7M1138.0 835.2L1184.1 776.2M1145.0 835.7L1191.7 776.0M1150.8 835.9L1197.6 776.1M1158.2 835.9L1204.8 776.2M1164.6 835.7L1210.6 776.9M1172.9 835.2L1218.4 776.9M1178.9 835.2L1225.0 776.3M1186.6 835.2L1232.3 776.7M1191.8 835.9L1237.9 776.9M1199.5 835.4L1245.3 776.8M1205.8 835.3L1250.7 778.0M1213.5 835.6L1250.9 787.7M1220.5 835.7L1250.4 797.4M1227.1 835.8L1250.5 805.8M1233.3 835.8L1250.8 813.3M1241.1 835.7L1250.6 823.4M1247.0 836.0L1250.4 831.6" stroke="#f5c79e" stroke-width="2.0" fill="none"/>
<rect x="1251" y="776" width="174" height="60" fill="#f8f7f9"/>
<path d="M1251.3 782.9L1256.5 776.2M1251.5 790.3L1262.2 776.6M1251.4 799.4L1269.6 776.1M1251.3 809.2L1276.9 776.5M1251.1 818.0L1283.4 776.7M1251.6 825.3L1290.1 776.1M1251.5 834.1L1296.5 776.5M1257.4 835.5L1303.7 776.2M1264.0 836.0L1310.2 776.8M1271.1 835.2L1317.0 776.5M1278.4 835.4L1324.7 776.1M1285.2 835.7L1331.3 776.8M1292.4 835.4L1338.2 776.8M1298.7 835.4L1344.4 776.9M1304.8 835.9L1351.3 776.4M1312.1 835.9L1358.7 776.2M1319.7 835.6L1366.2 776.1M1325.7 835.5L1372.0 776.2M1332.9 835.5L1379.1 776.4M1340.1 835.2L1386.3 776.0M1347.1 835.8L1393.8 776.0M1354.0 835.5L1400.0 776.5M1360.1 835.3L1406.2 776.3M1367.4 835.8L1413.6 776.5M1374.2 835.6L1420.4 776.5M1380.4 835.4L1424.5 778.9M1387.3 835.5L1424.5 787.9M1394.3 835.2L1424.4 796.7M1400.6 835.8L1424.9 804.6M1407.6 835.9L1424.6 814.2M1414.7 835.7L1424.7 822.9M1422.0 835.3L1424.5 832.2" stroke="#d3cdd9" stroke-width="1.8" fill="none"/>
<rect x="903" y="656" width="174" height="60" fill="#fccbcb" stroke="#303235" stroke-width="1.5"/>
<rect x="1077" y="656" width="174" height="60" fill="#fccbcb" stroke="#303235" stroke-width="1.5"/>
<rect x="1251" y="656" width="174" height="60" fill="#fccbcb" stroke="#303235" stroke-width="1.5"/>
<path d="M902.3 715.5Q1162.5 716.0 1424.1 715.7M903.5 716.9Q1164.5 715.9 1424.5 715.2" fill="none" stroke="#303235" stroke-width="1.8" stroke-linecap="round"/>
<path d="M1425.8 715.8Q1426.0 798.0 1424.7 880.2M1424.9 715.9Q1425.1 798.2 1425.5 881.6" fill="none" stroke="#303235" stroke-width="1.8" stroke-linecap="round"/>
<path d="M1424.8 881.7Q1163.9 881.4 902.8 881.3M1425.1 880.5Q1163.4 880.9 903.1 881.7" fill="none" stroke="#303235" stroke-width="1.8" stroke-linecap="round"/>
<path d="M903.7 881.9Q903.1 799.7 902.1 716.2M902.9 880.3Q903.2 797.8 902.6 716.4" fill="none" stroke="#303235" stroke-width="1.8" stroke-linecap="round"/>
<path d="M903.3 716.3Q990.2 715.4 1077.3 715.1M903.2 715.7Q989.4 716.5 1076.3 716.3" fill="none" stroke="#303235" stroke-width="1.8" stroke-linecap="round"/>
<path d="M1076.7 716.1Q1077.5 744.9 1077.6 775.3M1077.8 715.1Q1077.0 745.3 1077.4 775.8" fill="none" stroke="#303235" stroke-width="1.8" stroke-linecap="round"/>
<path d="M1077.0 775.8Q989.3 776.8 902.3 776.0M1076.8 775.9Q989.3 776.6 902.5 776.8" fill="none" stroke="#303235" stroke-width="1.8" stroke-linecap="round"/>
<path d="M903.6 775.8Q902.8 744.9 903.5 715.6M902.9 776.7Q903.2 745.9 902.5 715.9" fill="none" stroke="#303235" stroke-width="1.8" stroke-linecap="round"/>
<path d="M1076.4 716.0Q1164.3 715.9 1250.9 716.8M1077.1 715.8Q1164.4 715.5 1250.2 715.9" fill="none" stroke="#303235" stroke-width="1.8" stroke-linecap="round"/>
<path d="M1251.2 716.4Q1250.0 746.2 1250.2 776.8M1251.4 715.1Q1251.0 744.4 1250.8 775.3" fill="none" stroke="#303235" stroke-width="1.8" stroke-linecap="round"/>
<path d="M1250.4 775.5Q1162.8 775.4 1076.2 775.3M1250.3 776.6Q1163.1 776.7 1076.9 775.6" fill="none" stroke="#303235" stroke-width="1.8" stroke-linecap="round"/>
<path d="M1076.2 776.4Q1076.1 746.8 1076.3 716.8M1077.7 775.3Q1077.1 746.2 1076.2 716.3" fill="none" stroke="#303235" stroke-width="1.8" stroke-linecap="round"/>
<path d="M1250.6 716.0Q1337.1 716.1 1424.4 715.9M1250.6 715.6Q1338.5 715.4 1425.3 715.3" fill="none" stroke="#9673a6" stroke-width="1.8" stroke-linecap="round"/>
<path d="M1424.5 715.3Q1425.2 745.4 1425.0 776.0M1424.8 716.7Q1425.4 747.7 1424.6 776.9" fill="none" stroke="#9673a6" stroke-width="1.8" stroke-linecap="round"/>
<path d="M1425.8 775.6Q1338.1 776.8 1251.6 776.2M1425.3 776.6Q1338.8 775.3 1251.1 775.2" fill="none" stroke="#9673a6" stroke-width="1.8" stroke-linecap="round"/>
<path d="M1250.6 776.2Q1250.9 745.3 1250.4 715.9M1251.3 775.3Q1251.5 745.0 1251.0 716.3" fill="none" stroke="#9673a6" stroke-width="1.8" stroke-linecap="round"/>
<path d="M902.4 776.8Q989.4 776.7 1076.8 775.9M903.4 776.3Q990.2 775.6 1076.8 776.1" fill="none" stroke="#303235" stroke-width="1.8" stroke-linecap="round"/>
<path d="M1077.8 776.8Q1077.6 807.5 1077.5 836.9M1076.5 776.4Q1077.6 807.3 1077.4 836.8" fill="none" stroke="#303235" stroke-width="1.8" stroke-linecap="round"/>
<path d="M1076.6 836.5Q989.5 836.6 903.0 835.7M1077.6 836.6Q989.8 836.1 903.3 835.4" fill="none" stroke="#303235" stroke-width="1.8" stroke-linecap="round"/>
<path d="M902.5 835.7Q902.8 805.0 902.3 775.4M903.6 835.7Q903.2 805.5 903.6 775.6" fill="none" stroke="#303235" stroke-width="1.8" stroke-linecap="round"/>
<path d="M1076.1 775.9Q1164.1 775.3 1250.8 775.1M1076.1 776.8Q1162.4 775.5 1250.5 775.6" fill="none" stroke="#303235" stroke-width="1.8" stroke-linecap="round"/>
<path d="M1251.4 776.1Q1250.8 806.7 1251.0 835.5M1250.8 776.9Q1251.9 805.2 1251.7 835.3" fill="none" stroke="#303235" stroke-width="1.8" stroke-linecap="round"/>
<path d="M1251.4 836.6Q1164.9 835.7 1077.4 836.1M1251.1 835.6Q1164.3 835.6 1076.8 835.4" fill="none" stroke="#303235" stroke-width="1.8" stroke-linecap="round"/>
<path d="M1077.5 836.2Q1077.9 806.6 1077.2 776.8M1076.7 836.8Q1076.4 806.4 1076.8 775.3" fill="none" stroke="#303235" stroke-width="1.8" stroke-linecap="round"/>
<path d="M1251.8 776.3Q1339.0 776.4 1425.3 776.8M1250.9 776.5Q1338.0 776.4 1424.7 775.3" fill="none" stroke="#9673a6" stroke-width="1.8" stroke-linecap="round"/>
<path d="M1424.5 776.3Q1424.5 805.8 1425.7 835.3M1424.7 776.8Q1425.8 806.6 1425.9 835.9" fill="none" stroke="#9673a6" stroke-width="1.8" stroke-linecap="round"/>
<path d="M1424.4 836.8Q1337.3 835.2 1250.4 835.2M1425.0 835.8Q1339.0 836.3 1251.8 835.8" fill="none" stroke="#9673a6" stroke-width="1.8" stroke-linecap="round"/>
<path d="M1251.2 835.5Q1250.7 806.0 1250.6 776.0M1251.0 835.7Q1250.6 806.0 1251.2 776.9" fill="none" stroke="#9673a6" stroke-width="1.8" stroke-linecap="round"/>
<text x="990.0" y="688" font-size="23.5" text-anchor="middle" dominant-baseline="central"><tspan font-size="25" letter-spacing="-0.8" baseline-shift="1.8">文件</tspan> inode <tspan font-size="25" letter-spacing="-0.8" baseline-shift="1.8">号</tspan></text>
<text x="1164.0" y="688" font-size="23.5" text-anchor="middle" dominant-baseline="central"><tspan font-size="25" letter-spacing="-0.8" baseline-shift="1.8">文件类型</tspan></text>
<text x="1338.0" y="688" font-size="23.5" text-anchor="middle" dominant-baseline="central"><tspan font-size="25" letter-spacing="-0.8" baseline-shift="1.8">文件名</tspan></text>
<text x="990.0" y="748" font-size="23.5" text-anchor="middle" dominant-baseline="central">iode e</text>
<text x="1164.0" y="748" font-size="23.5" text-anchor="middle" dominant-baseline="central"><tspan font-size="25" letter-spacing="-0.8" baseline-shift="1.8">文件</tspan></text>
<text x="1338.0" y="748" font-size="23.5" text-anchor="middle" dominant-baseline="central"><tspan font-size="25" letter-spacing="-0.8" baseline-shift="1.8">文件</tspan> E</text>
<text x="990.0" y="808" font-size="23.5" text-anchor="middle" dominant-baseline="central">iode f</text>
<text x="1164.0" y="808" font-size="23.5" text-anchor="middle" dominant-baseline="central"><tspan font-size="25" letter-spacing="-0.8" baseline-shift="1.8">目录</tspan></text>
<text x="1338.0" y="808" font-size="23.5" text-anchor="middle" dominant-baseline="central"><tspan font-size="25" letter-spacing="-0.8" baseline-shift="1.8">目录</tspan> F</text>
<path d="M713 386 H766 V11 H890" fill="none" stroke="#000" stroke-width="1.8"/>
<path d="M901 11 L887 4 L891 11 L887 18 Z" fill="#000"/>
<path d="M713 446 H809 V341 H892" fill="none" stroke="#000" stroke-width="1.8"/>
<path d="M903 341 L889 334 L893 341 L889 348 Z" fill="#000"/>
<path d="M713 506 H826 V656 H892" fill="none" stroke="#000" stroke-width="1.8"/>
<path d="M903 656 L889 649 L893 656 L889 663 Z" fill="#000"/>
</svg></body></html>
